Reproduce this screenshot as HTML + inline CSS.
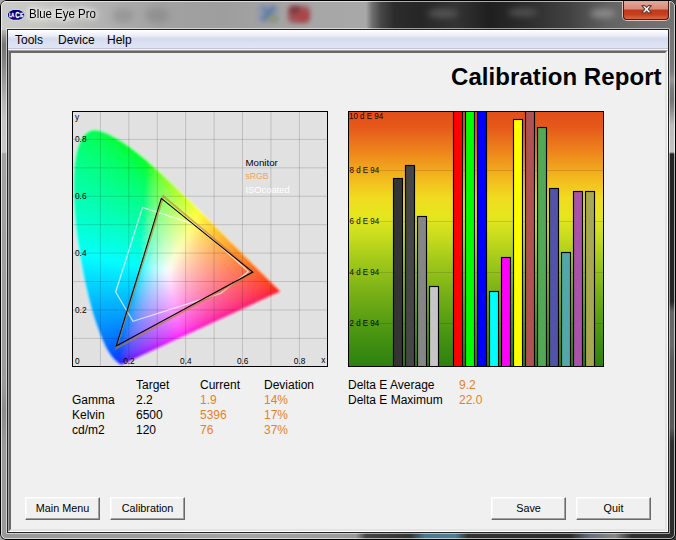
<!DOCTYPE html>
<html lang="en">
<head>
<meta charset="utf-8">
<title>Blue Eye Pro</title>
<style>
html,body{margin:0;padding:0;}
body{width:676px;height:540px;overflow:hidden;background:linear-gradient(to right,#a8a8a8 0,#a8a8a8 50%,#3a3a3a 60%,#3a3a3a 100%);font-family:"Liberation Sans",sans-serif;position:relative;}
.abs{position:absolute;}
#win{position:absolute;left:0;top:0;width:676px;height:540px;border-radius:6px 6px 6px 6px;overflow:hidden;
 background:#999;}
/* glass layers */
#g-title{left:0;top:0;width:676px;height:30px;
 background:linear-gradient(to right,#cbcbc8 0px,#c5c5c2 40px,#b2b2b2 100px,#a2a2a2 160px,#9e9e9e 220px,#a6a6a6 300px,#a8a8a8 366px,#707070 372px,#474747 381px,#2c2c2c 394px,#262626 420px,#343434 455px,#1f1f1f 490px,#2c2c2c 525px,#424242 570px,#626262 608px,#6e6e6e 640px,#727272 676px);}
#g-left{left:0;top:30px;width:8px;height:510px;
 background:linear-gradient(to bottom,#b8b8b6 0px,#8a8a8a 8px,#767676 15px,#808080 30px,#9a9a9a 50px,#b4b4b4 70px,#c4c4c4 90px,#c8c8c8 122px,#a2a2a2 124px,#9c9c9c 350px,#8c8c8c 380px,#9a9a9a 420px,#999 510px);}
#g-right{left:668px;top:30px;width:8px;height:510px;
 background:linear-gradient(to bottom,#747474 0px,#7a7a7a 40px,#959595 50px,#7c7c7c 58px,#747474 70px,#8c8c8c 80px,#bcbcbc 95px,#c4c4c4 122px,#242424 124px,#262626 272px,#666 282px,#6a6a6a 315px,#585858 332px,#5a5a5a 398px,#2e2e2e 412px,#2c2c2c 510px);}
#g-bottom{left:0;top:532px;width:676px;height:8px;
 background:linear-gradient(to right,#999 0px,#9c9c9c 150px,#a4a4a4 250px,#999 356px,#444 366px,#333 410px,#4a7a90 425px,#4f7f95 455px,#333 468px,#2a2a2a 570px,#667080 590px,#888 615px,#2e2e2e 632px,#2c2c2c 676px);}
.blob{position:absolute;border-radius:50%;filter:blur(3px);}
/* frame lines */
#ln-outer{left:0;top:0;width:674px;height:538px;border:1px solid #000;border-radius:6px;}
#ln-hi{left:1px;top:1px;width:672px;height:536px;border:1px solid rgba(255,255,255,.62);border-radius:5px;}
#ln-in-hi{left:6px;top:28px;width:662px;height:504px;border:1px solid rgba(255,255,255,.55);border-radius:1px;}
#ln-in-dk{left:7px;top:29px;width:660px;height:502px;border:1px solid #222;}
/* title */
#ttext{left:28.6px;top:5.4px;font-size:12.4px;line-height:18px;transform:scaleX(.925);transform-origin:0 0;color:#000;white-space:nowrap;text-shadow:0 0 6px #fff,0 0 8px #fff,0 0 10px rgba(255,255,255,.9);}
#close{left:622px;top:1px;width:48px;height:19.5px;border:1px solid rgba(255,225,215,.75);border-top:none;border-radius:0 0 5px 5px;
 box-sizing:border-box;}
#close i{position:absolute;left:0;top:0;right:0;bottom:0;border:1px solid #4a1a12;border-top:none;border-radius:0 0 4px 4px;
 background:linear-gradient(to bottom,#e2a99b 0%,#d88a78 45%,#c2371a 50%,#c5401f 75%,#d8693f 100%);}
/* client */
#client{left:8px;top:30px;width:660px;height:502px;background:#f0f0f0;}
#menu{left:0;top:0;width:660px;height:18px;background:linear-gradient(to bottom,#fff 0px,#fbfbfe 1.5px,#f1f3fa 4px,#e5e9f5 6.5px,#d6dcee 8.5px,#d8def0 11px,#dde2f3 14px,#e0e5f5 18px);}
#menu span{position:absolute;top:3px;font-size:12px;line-height:14px;color:#000;}
#menu-b1{left:0;top:18px;width:660px;height:1px;background:#c2c4d4;}
#menu-b2{left:0;top:19px;width:660px;height:1px;background:#f6f6fb;}
#panel{left:0;top:20px;width:656px;height:478px;border:2px solid;border-color:#696969 #e3e3e3 #e3e3e3 #696969;background:#f0f0f0;
 box-shadow:0 0 0 0 #000;}
#panel-o{left:0;top:20px;width:658px;height:480px;border:1px solid;border-color:#a0a0a0 #fff #fff #a0a0a0;}
h1{position:absolute;margin:0;left:451px;top:63px;font-size:24px;line-height:28px;font-weight:bold;color:#000;white-space:nowrap;letter-spacing:0.07px;}
.t{position:absolute;font-size:12px;line-height:15px;color:#000;white-space:nowrap;}
.o{color:#e8802a;}
.btn{position:absolute;top:497px;width:73px;height:21px;border:1px solid;border-color:#fff #696969 #696969 #fff;background:#f0f0f0;
 font-size:10.8px;line-height:21px;text-align:center;color:#000;box-shadow:inset -1px -1px 0 #a0a0a0,inset 1px 1px 0 #f8f8f8;}
svg{position:absolute;overflow:hidden;}
svg text{font-family:"Liberation Sans",sans-serif;}
</style>
</head>
<body>
<div id="win">
  <div class="abs" id="g-title"></div>
  <div class="abs" id="g-left"></div>
  <div class="abs" id="g-right"></div>
  <div class="abs" id="g-bottom"></div>
  <!-- blurred desktop items behind the glass -->
  <div class="blob" style="left:257px;top:4px;width:22px;height:19px;border-radius:6px;background:#8494ae;opacity:.6;filter:blur(2.5px)"></div>
  <div class="blob" style="left:265.5px;top:4px;width:5px;height:19px;border-radius:2px;background:#46689c;opacity:.55;filter:blur(2px);transform:rotate(42deg)"></div>
  <div class="blob" style="left:265.5px;top:4px;width:5px;height:19px;border-radius:2px;background:#5078a8;opacity:.5;filter:blur(2px);transform:rotate(-42deg)"></div>
  <div class="blob" style="left:268px;top:15px;width:10px;height:7px;background:#a09a5a;opacity:.7;filter:blur(2px)"></div>
  <div class="blob" style="left:288px;top:6px;width:22px;height:17px;border-radius:5px;background:#9e3c40;opacity:.8;filter:blur(2.6px)"></div>
  <div class="blob" style="left:290px;top:6px;width:10px;height:8px;border-radius:3px;background:#6a3034;opacity:.6;filter:blur(2px)"></div>
  <div class="blob" style="left:298px;top:12px;width:10px;height:9px;border-radius:3px;background:#b83a3c;opacity:.6;filter:blur(2px)"></div>
  <div class="blob" style="left:112px;top:8px;width:22px;height:15px;background:#8c8c8c;opacity:.6"></div>
  <div class="blob" style="left:145px;top:8px;width:24px;height:15px;background:#888;opacity:.65"></div>
  <div class="blob" style="left:428px;top:9px;width:30px;height:9px;background:#5e5e5e;opacity:.8"></div>
  <div class="blob" style="left:508px;top:8px;width:30px;height:9px;background:#575757;opacity:.8"></div>
  <div class="blob" style="left:590px;top:9px;width:26px;height:9px;background:#9a9a9a;opacity:.75"></div>

  <div class="abs" id="ln-outer"></div>
  <div class="abs" id="ln-hi"></div>
  <div class="abs" id="ln-in-hi"></div>
  <div class="abs" id="ln-in-dk"></div>

  <!-- app icon -->
  <svg class="abs" style="left:6px;top:8px" width="21" height="14" viewBox="6 8 21 14">
    <path d="M13 9.4H19.2L22.3 11L24.8 13.3V16.6L22.3 18.9L19.2 20.4H13L9.9 18.9L7.4 16.6V13.3L9.9 11Z" fill="#e6e6fa" opacity=".75"/>
    <path d="M13 10H19L22 11.5L24.2 13.5V16.4L22 18.4L19 19.8H13L10 18.4L8 16.4V13.5L10 11.5Z" fill="#00007e"/>
    <g fill="#fff" font-weight="bold" stroke="#fff" stroke-width=".3">
      <text x="8.9" y="16.8" font-size="5.6" textLength="5.4" lengthAdjust="spacingAndGlyphs">LA</text>
      <text x="15.2" y="18" font-size="8.6" textLength="4.4" lengthAdjust="spacingAndGlyphs">C</text>
      <text x="19.9" y="16.8" font-size="5.6" textLength="3.4" lengthAdjust="spacingAndGlyphs">IE</text>
    </g>
  </svg>
  <div class="abs" id="ttext">Blue Eye Pro</div>

  <div class="abs" id="close"><i></i>
    <svg style="left:16.3px;top:1.6px" width="15" height="13" viewBox="0 0 15 13">
      <path d="M2.8 2.6 L6 2.6 L7.6 4.5 L9.2 2.6 L12.4 2.6 L9.3 6.2 L12.5 9.9 L9.2 9.9 L7.6 8 L6 9.9 L2.7 9.9 L5.9 6.2 Z" fill="#fff" stroke="#5e423e" stroke-width="1.1" stroke-linejoin="round"/>
    </svg>
  </div>

  <div class="abs" id="client">
    <div class="abs" id="menu">
      <span style="left:7px">Tools</span><span style="left:50px">Device</span><span style="left:99px">Help</span>
    </div>
    <div class="abs" id="menu-b1"></div>
    <div class="abs" id="menu-b2"></div>
    <div class="abs" id="panel-o"></div>
    <div class="abs" id="panel" style="left:1px;top:21px;width:654px;height:476px;"></div>
  </div>

  <h1>Calibration Report</h1>

  <!-- CIE chromaticity chart -->
  <svg id="cie" style="left:72px;top:111px" width="256" height="256" viewBox="0 0 256 256">
    <defs>
      <filter id="b1" x="-5%" y="-5%" width="110%" height="110%"><feGaussianBlur stdDeviation="1.1"/></filter>
      <mask id="locus" maskUnits="userSpaceOnUse" x="0" y="0" width="256" height="256"><path d="M49.1 254.6C49.1 254.6 49.0 254.6 49.0 254.6C48.9 254.6 48.8 254.6 48.8 254.5C48.7 254.5 48.6 254.4 48.4 254.3C48.3 254.3 48.2 254.2 48.0 254.0C47.9 253.9 47.7 253.7 47.5 253.5C47.3 253.4 47.0 253.1 46.8 252.9C46.5 252.6 46.2 252.4 45.8 252.1C45.5 251.7 45.0 251.4 44.5 251.0C44.1 250.5 43.5 250.1 43.0 249.5C42.4 249.0 41.7 248.4 41.0 247.5C40.2 246.7 39.5 246.0 38.5 244.6C37.6 243.3 36.5 241.8 35.3 239.6C34.1 237.3 32.7 234.9 31.2 231.3C29.6 227.8 27.9 223.7 26.0 218.3C24.0 212.9 21.7 206.6 19.5 198.9C17.4 191.2 15.1 182.1 12.9 172.1C10.8 162.0 8.4 150.1 6.7 138.6C4.9 127.1 3.3 114.3 2.3 102.9C1.4 91.4 0.8 79.8 1.1 69.7C1.4 59.7 2.3 50.1 4.0 42.6C5.6 35.2 8.2 29.0 11.1 25.0C13.9 21.1 17.6 19.5 21.1 18.8C24.7 18.2 28.7 19.7 32.5 21.0C36.3 22.3 40.3 24.7 44.0 26.8C47.7 28.9 51.3 31.2 54.9 33.7C58.4 36.1 61.9 38.7 65.3 41.4C68.8 44.2 72.2 47.0 75.6 50.0C79.0 52.9 82.4 56.0 85.8 59.1C89.2 62.2 92.6 65.4 95.9 68.6C99.3 71.8 102.7 75.1 106.1 78.4C109.5 81.6 112.9 85.0 116.3 88.3C119.6 91.6 123.0 94.9 126.3 98.2C129.6 101.5 132.9 104.8 136.2 108.0C139.4 111.3 142.6 114.5 145.8 117.6C148.9 120.7 152.0 123.8 155.0 126.7C157.9 129.7 160.9 132.6 163.6 135.3C166.4 138.1 169.0 140.8 171.5 143.2C173.9 145.7 176.2 147.9 178.3 150.0C180.5 152.2 182.5 154.2 184.4 156.0C186.2 157.9 187.9 159.5 189.4 161.0C190.9 162.5 192.2 163.8 193.4 165.1C194.7 166.3 195.7 167.3 196.7 168.3C197.7 169.3 198.5 170.1 199.3 170.9C200.1 171.6 200.7 172.3 201.4 172.9C202.0 173.6 202.6 174.1 203.1 174.7C203.6 175.2 204.1 175.7 204.5 176.1C204.9 176.5 205.3 176.9 205.7 177.2C206.0 177.5 206.3 177.8 206.5 178.1C206.8 178.3 207.0 178.5 207.2 178.7C207.3 178.9 207.3 178.9 207.6 179.2C207.9 179.5 208.8 180.3 209.0 180.5Z" fill="#fff" filter="url(#b1)"/></mask>
      <filter id="sm" x="-5%" y="-5%" width="110%" height="110%"><feGaussianBlur stdDeviation="2"/></filter>
    </defs>
    <rect x="0" y="0" width="257" height="257" fill="#e1e1e1"/>
    <g mask="url(#locus)" opacity=".98">
      <g id="cells" filter="url(#sm)">
<g transform="translate(0 8)"><rect x="12" width="4" height="4" fill="#00ff49"/><rect x="16" width="4" height="4" fill="#00ff42"/><rect x="20" width="4" height="4" fill="#00ff3b"/><rect x="24" width="4" height="4" fill="#00ff32"/><rect x="28" width="4" height="4" fill="#00ff27"/><rect x="32" width="4" height="4" fill="#00ff13"/></g>
<g transform="translate(0 12)"><rect x="4" width="4" height="4" fill="#00ff59"/><rect x="8" width="4" height="4" fill="#00ff54"/><rect x="12" width="4" height="4" fill="#00ff4f"/><rect x="16" width="4" height="4" fill="#00ff49"/><rect x="20" width="4" height="4" fill="#00ff43"/><rect x="24" width="4" height="4" fill="#00ff3c"/><rect x="28" width="4" height="4" fill="#00ff33"/><rect x="32" width="4" height="4" fill="#00ff27"/><rect x="36" width="4" height="4" fill="#00ff14"/><rect x="40" width="4" height="4" fill="#00ff00"/></g>
<g transform="translate(0 16)"><rect x="0" width="4" height="4" fill="#00ff63"/><rect x="4" width="4" height="4" fill="#00ff5f"/><rect x="8" width="4" height="4" fill="#00ff5a"/><rect x="12" width="4" height="4" fill="#00ff55"/><rect x="16" width="4" height="4" fill="#00ff50"/><rect x="20" width="4" height="4" fill="#00ff4a"/><rect x="24" width="4" height="4" fill="#00ff44"/><rect x="28" width="4" height="4" fill="#00ff3c"/><rect x="32" width="4" height="4" fill="#00ff33"/><rect x="36" width="4" height="4" fill="#00ff28"/><rect x="40" width="4" height="4" fill="#00ff15"/><rect x="44" width="4" height="4" fill="#00ff00"/><rect x="48" width="4" height="4" fill="#00ff00"/></g>
<g transform="translate(0 20)"><rect x="0" width="4" height="4" fill="#00ff68"/><rect x="4" width="4" height="4" fill="#00ff64"/><rect x="8" width="4" height="4" fill="#00ff60"/><rect x="12" width="4" height="4" fill="#00ff5b"/><rect x="16" width="4" height="4" fill="#00ff56"/><rect x="20" width="4" height="4" fill="#00ff51"/><rect x="24" width="4" height="4" fill="#00ff4b"/><rect x="28" width="4" height="4" fill="#00ff45"/><rect x="32" width="4" height="4" fill="#00ff3d"/><rect x="36" width="4" height="4" fill="#00ff34"/><rect x="40" width="4" height="4" fill="#00ff29"/><rect x="44" width="4" height="4" fill="#00ff16"/><rect x="48" width="4" height="4" fill="#00ff00"/><rect x="52" width="4" height="4" fill="#00ff00"/><rect x="56" width="4" height="4" fill="#00ff00"/></g>
<g transform="translate(0 24)"><rect x="0" width="4" height="4" fill="#00ff6d"/><rect x="4" width="4" height="4" fill="#00ff69"/><rect x="8" width="4" height="4" fill="#00ff65"/><rect x="12" width="4" height="4" fill="#00ff61"/><rect x="16" width="4" height="4" fill="#00ff5c"/><rect x="20" width="4" height="4" fill="#00ff57"/><rect x="24" width="4" height="4" fill="#00ff52"/><rect x="28" width="4" height="4" fill="#00ff4c"/><rect x="32" width="4" height="4" fill="#00ff46"/><rect x="36" width="4" height="4" fill="#00ff3e"/><rect x="40" width="4" height="4" fill="#00ff35"/><rect x="44" width="4" height="4" fill="#00ff29"/><rect x="48" width="4" height="4" fill="#00ff17"/><rect x="52" width="4" height="4" fill="#00ff00"/><rect x="56" width="4" height="4" fill="#00ff00"/><rect x="60" width="4" height="4" fill="#00ff00"/></g>
<g transform="translate(0 28)"><rect x="0" width="4" height="4" fill="#00ff72"/><rect x="4" width="4" height="4" fill="#00ff6e"/><rect x="8" width="4" height="4" fill="#00ff6a"/><rect x="12" width="4" height="4" fill="#00ff66"/><rect x="16" width="4" height="4" fill="#00ff62"/><rect x="20" width="4" height="4" fill="#00ff5d"/><rect x="24" width="4" height="4" fill="#00ff58"/><rect x="28" width="4" height="4" fill="#00ff53"/><rect x="32" width="4" height="4" fill="#00ff4d"/><rect x="36" width="4" height="4" fill="#00ff47"/><rect x="40" width="4" height="4" fill="#00ff3f"/><rect x="44" width="4" height="4" fill="#00ff36"/><rect x="48" width="4" height="4" fill="#00ff2a"/><rect x="52" width="4" height="4" fill="#00ff18"/><rect x="56" width="4" height="4" fill="#00ff00"/><rect x="60" width="4" height="4" fill="#00ff00"/><rect x="64" width="4" height="4" fill="#00ff00"/><rect x="68" width="4" height="4" fill="#00ff00"/></g>
<g transform="translate(0 32)"><rect x="0" width="4" height="4" fill="#00ff76"/><rect x="4" width="4" height="4" fill="#00ff73"/><rect x="8" width="4" height="4" fill="#00ff6f"/><rect x="12" width="4" height="4" fill="#00ff6c"/><rect x="16" width="4" height="4" fill="#00ff67"/><rect x="20" width="4" height="4" fill="#00ff63"/><rect x="24" width="4" height="4" fill="#00ff5f"/><rect x="28" width="4" height="4" fill="#00ff5a"/><rect x="32" width="4" height="4" fill="#00ff54"/><rect x="36" width="4" height="4" fill="#00ff4e"/><rect x="40" width="4" height="4" fill="#00ff48"/><rect x="44" width="4" height="4" fill="#00ff40"/><rect x="48" width="4" height="4" fill="#00ff37"/><rect x="52" width="4" height="4" fill="#00ff2b"/><rect x="56" width="4" height="4" fill="#00ff18"/><rect x="60" width="4" height="4" fill="#00ff00"/><rect x="64" width="4" height="4" fill="#00ff00"/><rect x="68" width="4" height="4" fill="#00ff00"/><rect x="72" width="4" height="4" fill="#00ff00"/></g>
<g transform="translate(0 36)"><rect x="0" width="4" height="4" fill="#00ff7b"/><rect x="4" width="4" height="4" fill="#00ff78"/><rect x="8" width="4" height="4" fill="#00ff74"/><rect x="12" width="4" height="4" fill="#00ff71"/><rect x="16" width="4" height="4" fill="#00ff6d"/><rect x="20" width="4" height="4" fill="#00ff69"/><rect x="24" width="4" height="4" fill="#00ff64"/><rect x="28" width="4" height="4" fill="#00ff60"/><rect x="32" width="4" height="4" fill="#00ff5b"/><rect x="36" width="4" height="4" fill="#00ff55"/><rect x="40" width="4" height="4" fill="#00ff4f"/><rect x="44" width="4" height="4" fill="#00ff49"/><rect x="48" width="4" height="4" fill="#00ff41"/><rect x="52" width="4" height="4" fill="#00ff38"/><rect x="56" width="4" height="4" fill="#00ff2c"/><rect x="60" width="4" height="4" fill="#00ff19"/><rect x="64" width="4" height="4" fill="#00ff00"/><rect x="68" width="4" height="4" fill="#00ff00"/><rect x="72" width="4" height="4" fill="#00ff00"/><rect x="76" width="4" height="4" fill="#00ff00"/></g>
<g transform="translate(0 40)"><rect x="0" width="4" height="4" fill="#00ff80"/><rect x="4" width="4" height="4" fill="#00ff7c"/><rect x="8" width="4" height="4" fill="#00ff79"/><rect x="12" width="4" height="4" fill="#00ff76"/><rect x="16" width="4" height="4" fill="#00ff72"/><rect x="20" width="4" height="4" fill="#00ff6e"/><rect x="24" width="4" height="4" fill="#00ff6a"/><rect x="28" width="4" height="4" fill="#00ff66"/><rect x="32" width="4" height="4" fill="#00ff61"/><rect x="36" width="4" height="4" fill="#00ff5c"/><rect x="40" width="4" height="4" fill="#00ff56"/><rect x="44" width="4" height="4" fill="#00ff50"/><rect x="48" width="4" height="4" fill="#00ff4a"/><rect x="52" width="4" height="4" fill="#00ff42"/><rect x="56" width="4" height="4" fill="#00ff38"/><rect x="60" width="4" height="4" fill="#00ff2d"/><rect x="64" width="4" height="4" fill="#00ff1a"/><rect x="68" width="4" height="4" fill="#00ff00"/><rect x="72" width="4" height="4" fill="#00ff00"/><rect x="76" width="4" height="4" fill="#00ff00"/><rect x="80" width="4" height="4" fill="#32ff00"/></g>
<g transform="translate(0 44)"><rect x="0" width="4" height="4" fill="#00ff84"/><rect x="4" width="4" height="4" fill="#00ff81"/><rect x="8" width="4" height="4" fill="#00ff7e"/><rect x="12" width="4" height="4" fill="#00ff7b"/><rect x="16" width="4" height="4" fill="#00ff77"/><rect x="20" width="4" height="4" fill="#00ff73"/><rect x="24" width="4" height="4" fill="#00ff70"/><rect x="28" width="4" height="4" fill="#00ff6b"/><rect x="32" width="4" height="4" fill="#00ff67"/><rect x="36" width="4" height="4" fill="#00ff62"/><rect x="40" width="4" height="4" fill="#00ff5d"/><rect x="44" width="4" height="4" fill="#00ff58"/><rect x="48" width="4" height="4" fill="#00ff52"/><rect x="52" width="4" height="4" fill="#00ff4b"/><rect x="56" width="4" height="4" fill="#00ff43"/><rect x="60" width="4" height="4" fill="#00ff39"/><rect x="64" width="4" height="4" fill="#00ff2d"/><rect x="68" width="4" height="4" fill="#00ff1b"/><rect x="72" width="4" height="4" fill="#00ff00"/><rect x="76" width="4" height="4" fill="#00ff00"/><rect x="80" width="4" height="4" fill="#37ff00"/><rect x="84" width="4" height="4" fill="#50ff00"/><rect x="88" width="4" height="4" fill="#62ff00"/></g>
<g transform="translate(0 48)"><rect x="0" width="4" height="4" fill="#00ff89"/><rect x="4" width="4" height="4" fill="#00ff86"/><rect x="8" width="4" height="4" fill="#00ff83"/><rect x="12" width="4" height="4" fill="#00ff80"/><rect x="16" width="4" height="4" fill="#00ff7c"/><rect x="20" width="4" height="4" fill="#00ff79"/><rect x="24" width="4" height="4" fill="#00ff75"/><rect x="28" width="4" height="4" fill="#00ff71"/><rect x="32" width="4" height="4" fill="#00ff6d"/><rect x="36" width="4" height="4" fill="#00ff68"/><rect x="40" width="4" height="4" fill="#00ff64"/><rect x="44" width="4" height="4" fill="#00ff5f"/><rect x="48" width="4" height="4" fill="#00ff59"/><rect x="52" width="4" height="4" fill="#00ff53"/><rect x="56" width="4" height="4" fill="#00ff4c"/><rect x="60" width="4" height="4" fill="#00ff44"/><rect x="64" width="4" height="4" fill="#00ff3a"/><rect x="68" width="4" height="4" fill="#00ff2e"/><rect x="72" width="4" height="4" fill="#00ff1c"/><rect x="76" width="4" height="4" fill="#00ff00"/><rect x="80" width="4" height="4" fill="#3cff00"/><rect x="84" width="4" height="4" fill="#54ff00"/><rect x="88" width="4" height="4" fill="#65ff00"/><rect x="92" width="4" height="4" fill="#74ff00"/></g>
<g transform="translate(0 52)"><rect x="0" width="4" height="4" fill="#00ff8d"/><rect x="4" width="4" height="4" fill="#00ff8a"/><rect x="8" width="4" height="4" fill="#00ff88"/><rect x="12" width="4" height="4" fill="#00ff84"/><rect x="16" width="4" height="4" fill="#00ff81"/><rect x="20" width="4" height="4" fill="#00ff7e"/><rect x="24" width="4" height="4" fill="#00ff7a"/><rect x="28" width="4" height="4" fill="#00ff77"/><rect x="32" width="4" height="4" fill="#00ff73"/><rect x="36" width="4" height="4" fill="#00ff6e"/><rect x="40" width="4" height="4" fill="#00ff6a"/><rect x="44" width="4" height="4" fill="#00ff65"/><rect x="48" width="4" height="4" fill="#00ff60"/><rect x="52" width="4" height="4" fill="#00ff5a"/><rect x="56" width="4" height="4" fill="#00ff54"/><rect x="60" width="4" height="4" fill="#00ff4d"/><rect x="64" width="4" height="4" fill="#00ff45"/><rect x="68" width="4" height="4" fill="#00ff3b"/><rect x="72" width="4" height="4" fill="#00ff2f"/><rect x="76" width="4" height="4" fill="#15ff1d"/><rect x="80" width="4" height="4" fill="#41ff00"/><rect x="84" width="4" height="4" fill="#57ff00"/><rect x="88" width="4" height="4" fill="#69ff00"/><rect x="92" width="4" height="4" fill="#77ff00"/><rect x="96" width="4" height="4" fill="#85ff00"/></g>
<g transform="translate(0 56)"><rect x="0" width="4" height="4" fill="#00ff92"/><rect x="4" width="4" height="4" fill="#00ff8f"/><rect x="8" width="4" height="4" fill="#00ff8c"/><rect x="12" width="4" height="4" fill="#00ff89"/><rect x="16" width="4" height="4" fill="#00ff86"/><rect x="20" width="4" height="4" fill="#00ff83"/><rect x="24" width="4" height="4" fill="#00ff80"/><rect x="28" width="4" height="4" fill="#00ff7c"/><rect x="32" width="4" height="4" fill="#00ff78"/><rect x="36" width="4" height="4" fill="#00ff74"/><rect x="40" width="4" height="4" fill="#00ff70"/><rect x="44" width="4" height="4" fill="#00ff6b"/><rect x="48" width="4" height="4" fill="#00ff67"/><rect x="52" width="4" height="4" fill="#00ff61"/><rect x="56" width="4" height="4" fill="#00ff5c"/><rect x="60" width="4" height="4" fill="#00ff55"/><rect x="64" width="4" height="4" fill="#00ff4e"/><rect x="68" width="4" height="4" fill="#00ff46"/><rect x="72" width="4" height="4" fill="#00ff3c"/><rect x="76" width="4" height="4" fill="#1dff30"/><rect x="80" width="4" height="4" fill="#46ff1e"/><rect x="84" width="4" height="4" fill="#5bff00"/><rect x="88" width="4" height="4" fill="#6cff00"/><rect x="92" width="4" height="4" fill="#7bff00"/><rect x="96" width="4" height="4" fill="#88ff00"/><rect x="100" width="4" height="4" fill="#94ff00"/></g>
<g transform="translate(0 60)"><rect x="0" width="4" height="4" fill="#00ff96"/><rect x="4" width="4" height="4" fill="#00ff94"/><rect x="8" width="4" height="4" fill="#00ff91"/><rect x="12" width="4" height="4" fill="#00ff8e"/><rect x="16" width="4" height="4" fill="#00ff8b"/><rect x="20" width="4" height="4" fill="#00ff88"/><rect x="24" width="4" height="4" fill="#00ff85"/><rect x="28" width="4" height="4" fill="#00ff81"/><rect x="32" width="4" height="4" fill="#00ff7e"/><rect x="36" width="4" height="4" fill="#00ff7a"/><rect x="40" width="4" height="4" fill="#00ff76"/><rect x="44" width="4" height="4" fill="#00ff72"/><rect x="48" width="4" height="4" fill="#00ff6d"/><rect x="52" width="4" height="4" fill="#00ff68"/><rect x="56" width="4" height="4" fill="#00ff63"/><rect x="60" width="4" height="4" fill="#00ff5d"/><rect x="64" width="4" height="4" fill="#00ff57"/><rect x="68" width="4" height="4" fill="#00ff4f"/><rect x="72" width="4" height="4" fill="#00ff47"/><rect x="76" width="4" height="4" fill="#24ff3e"/><rect x="80" width="4" height="4" fill="#4aff31"/><rect x="84" width="4" height="4" fill="#5fff1f"/><rect x="88" width="4" height="4" fill="#70ff00"/><rect x="92" width="4" height="4" fill="#7eff00"/><rect x="96" width="4" height="4" fill="#8bff00"/><rect x="100" width="4" height="4" fill="#97ff00"/><rect x="104" width="4" height="4" fill="#a2ff00"/></g>
<g transform="translate(0 64)"><rect x="0" width="4" height="4" fill="#00ff9b"/><rect x="4" width="4" height="4" fill="#00ff98"/><rect x="8" width="4" height="4" fill="#00ff96"/><rect x="12" width="4" height="4" fill="#00ff93"/><rect x="16" width="4" height="4" fill="#00ff90"/><rect x="20" width="4" height="4" fill="#00ff8d"/><rect x="24" width="4" height="4" fill="#00ff8a"/><rect x="28" width="4" height="4" fill="#00ff87"/><rect x="32" width="4" height="4" fill="#00ff83"/><rect x="36" width="4" height="4" fill="#00ff7f"/><rect x="40" width="4" height="4" fill="#00ff7c"/><rect x="44" width="4" height="4" fill="#00ff78"/><rect x="48" width="4" height="4" fill="#00ff73"/><rect x="52" width="4" height="4" fill="#00ff6f"/><rect x="56" width="4" height="4" fill="#00ff6a"/><rect x="60" width="4" height="4" fill="#00ff64"/><rect x="64" width="4" height="4" fill="#00ff5f"/><rect x="68" width="4" height="4" fill="#00ff58"/><rect x="72" width="4" height="4" fill="#00ff51"/><rect x="76" width="4" height="4" fill="#2aff49"/><rect x="80" width="4" height="4" fill="#4eff3f"/><rect x="84" width="4" height="4" fill="#63ff32"/><rect x="88" width="4" height="4" fill="#73ff20"/><rect x="92" width="4" height="4" fill="#81ff00"/><rect x="96" width="4" height="4" fill="#8eff00"/><rect x="100" width="4" height="4" fill="#9aff00"/><rect x="104" width="4" height="4" fill="#a5ff00"/><rect x="108" width="4" height="4" fill="#b0ff00"/></g>
<g transform="translate(0 68)"><rect x="0" width="4" height="4" fill="#00ff9f"/><rect x="4" width="4" height="4" fill="#00ff9d"/><rect x="8" width="4" height="4" fill="#00ff9a"/><rect x="12" width="4" height="4" fill="#00ff98"/><rect x="16" width="4" height="4" fill="#00ff95"/><rect x="20" width="4" height="4" fill="#00ff92"/><rect x="24" width="4" height="4" fill="#00ff8f"/><rect x="28" width="4" height="4" fill="#00ff8c"/><rect x="32" width="4" height="4" fill="#00ff89"/><rect x="36" width="4" height="4" fill="#00ff85"/><rect x="40" width="4" height="4" fill="#00ff81"/><rect x="44" width="4" height="4" fill="#00ff7d"/><rect x="48" width="4" height="4" fill="#00ff79"/><rect x="52" width="4" height="4" fill="#00ff75"/><rect x="56" width="4" height="4" fill="#00ff70"/><rect x="60" width="4" height="4" fill="#00ff6b"/><rect x="64" width="4" height="4" fill="#00ff66"/><rect x="68" width="4" height="4" fill="#00ff60"/><rect x="72" width="4" height="4" fill="#00ff5a"/><rect x="76" width="4" height="4" fill="#2fff52"/><rect x="80" width="4" height="4" fill="#53ff4a"/><rect x="84" width="4" height="4" fill="#66ff40"/><rect x="88" width="4" height="4" fill="#77ff33"/><rect x="92" width="4" height="4" fill="#85ff21"/><rect x="96" width="4" height="4" fill="#92ff00"/><rect x="100" width="4" height="4" fill="#9dff00"/><rect x="104" width="4" height="4" fill="#a9ff00"/><rect x="108" width="4" height="4" fill="#b3ff00"/><rect x="112" width="4" height="4" fill="#bdff00"/></g>
<g transform="translate(0 72)"><rect x="0" width="4" height="4" fill="#00ffa4"/><rect x="4" width="4" height="4" fill="#00ffa2"/><rect x="8" width="4" height="4" fill="#00ff9f"/><rect x="12" width="4" height="4" fill="#00ff9c"/><rect x="16" width="4" height="4" fill="#00ff9a"/><rect x="20" width="4" height="4" fill="#00ff97"/><rect x="24" width="4" height="4" fill="#00ff94"/><rect x="28" width="4" height="4" fill="#00ff91"/><rect x="32" width="4" height="4" fill="#00ff8e"/><rect x="36" width="4" height="4" fill="#00ff8b"/><rect x="40" width="4" height="4" fill="#00ff87"/><rect x="44" width="4" height="4" fill="#00ff83"/><rect x="48" width="4" height="4" fill="#00ff7f"/><rect x="52" width="4" height="4" fill="#00ff7b"/><rect x="56" width="4" height="4" fill="#00ff77"/><rect x="60" width="4" height="4" fill="#00ff72"/><rect x="64" width="4" height="4" fill="#00ff6d"/><rect x="68" width="4" height="4" fill="#00ff68"/><rect x="72" width="4" height="4" fill="#00ff62"/><rect x="76" width="4" height="4" fill="#33ff5b"/><rect x="80" width="4" height="4" fill="#57ff54"/><rect x="84" width="4" height="4" fill="#6aff4b"/><rect x="88" width="4" height="4" fill="#7aff41"/><rect x="92" width="4" height="4" fill="#88ff35"/><rect x="96" width="4" height="4" fill="#95ff22"/><rect x="100" width="4" height="4" fill="#a1ff00"/><rect x="104" width="4" height="4" fill="#acff00"/><rect x="108" width="4" height="4" fill="#b7ff00"/><rect x="112" width="4" height="4" fill="#c1ff00"/><rect x="116" width="4" height="4" fill="#cbff00"/></g>
<g transform="translate(0 76)"><rect x="0" width="4" height="4" fill="#00ffa9"/><rect x="4" width="4" height="4" fill="#00ffa6"/><rect x="8" width="4" height="4" fill="#00ffa4"/><rect x="12" width="4" height="4" fill="#00ffa1"/><rect x="16" width="4" height="4" fill="#00ff9f"/><rect x="20" width="4" height="4" fill="#00ff9c"/><rect x="24" width="4" height="4" fill="#00ff99"/><rect x="28" width="4" height="4" fill="#00ff96"/><rect x="32" width="4" height="4" fill="#00ff93"/><rect x="36" width="4" height="4" fill="#00ff90"/><rect x="40" width="4" height="4" fill="#00ff8d"/><rect x="44" width="4" height="4" fill="#00ff89"/><rect x="48" width="4" height="4" fill="#00ff85"/><rect x="52" width="4" height="4" fill="#00ff81"/><rect x="56" width="4" height="4" fill="#00ff7d"/><rect x="60" width="4" height="4" fill="#00ff79"/><rect x="64" width="4" height="4" fill="#00ff74"/><rect x="68" width="4" height="4" fill="#00ff6f"/><rect x="72" width="4" height="4" fill="#00ff69"/><rect x="76" width="4" height="4" fill="#38ff63"/><rect x="80" width="4" height="4" fill="#5aff5d"/><rect x="84" width="4" height="4" fill="#6eff55"/><rect x="88" width="4" height="4" fill="#7eff4d"/><rect x="92" width="4" height="4" fill="#8cff43"/><rect x="96" width="4" height="4" fill="#99ff36"/><rect x="100" width="4" height="4" fill="#a4ff23"/><rect x="104" width="4" height="4" fill="#b0ff00"/><rect x="108" width="4" height="4" fill="#baff00"/><rect x="112" width="4" height="4" fill="#c5ff00"/><rect x="116" width="4" height="4" fill="#ceff00"/><rect x="120" width="4" height="4" fill="#d8ff00"/></g>
<g transform="translate(0 80)"><rect x="0" width="4" height="4" fill="#00ffad"/><rect x="4" width="4" height="4" fill="#00ffab"/><rect x="8" width="4" height="4" fill="#00ffa9"/><rect x="12" width="4" height="4" fill="#00ffa6"/><rect x="16" width="4" height="4" fill="#00ffa4"/><rect x="20" width="4" height="4" fill="#00ffa1"/><rect x="24" width="4" height="4" fill="#00ff9e"/><rect x="28" width="4" height="4" fill="#00ff9c"/><rect x="32" width="4" height="4" fill="#00ff99"/><rect x="36" width="4" height="4" fill="#00ff95"/><rect x="40" width="4" height="4" fill="#00ff92"/><rect x="44" width="4" height="4" fill="#00ff8f"/><rect x="48" width="4" height="4" fill="#00ff8b"/><rect x="52" width="4" height="4" fill="#00ff88"/><rect x="56" width="4" height="4" fill="#00ff84"/><rect x="60" width="4" height="4" fill="#00ff7f"/><rect x="64" width="4" height="4" fill="#00ff7b"/><rect x="68" width="4" height="4" fill="#00ff76"/><rect x="72" width="4" height="4" fill="#00ff71"/><rect x="76" width="4" height="4" fill="#3cff6b"/><rect x="80" width="4" height="4" fill="#5eff65"/><rect x="84" width="4" height="4" fill="#71ff5e"/><rect x="88" width="4" height="4" fill="#81ff57"/><rect x="92" width="4" height="4" fill="#8fff4e"/><rect x="96" width="4" height="4" fill="#9cff44"/><rect x="100" width="4" height="4" fill="#a8ff37"/><rect x="104" width="4" height="4" fill="#b3ff24"/><rect x="108" width="4" height="4" fill="#beff00"/><rect x="112" width="4" height="4" fill="#c9ff00"/><rect x="116" width="4" height="4" fill="#d2ff00"/><rect x="120" width="4" height="4" fill="#dcff00"/><rect x="124" width="4" height="4" fill="#e6ff00"/></g>
<g transform="translate(0 84)"><rect x="0" width="4" height="4" fill="#00ffb2"/><rect x="4" width="4" height="4" fill="#00ffb0"/><rect x="8" width="4" height="4" fill="#00ffad"/><rect x="12" width="4" height="4" fill="#00ffab"/><rect x="16" width="4" height="4" fill="#00ffa9"/><rect x="20" width="4" height="4" fill="#00ffa6"/><rect x="24" width="4" height="4" fill="#00ffa4"/><rect x="28" width="4" height="4" fill="#00ffa1"/><rect x="32" width="4" height="4" fill="#00ff9e"/><rect x="36" width="4" height="4" fill="#00ff9b"/><rect x="40" width="4" height="4" fill="#00ff98"/><rect x="44" width="4" height="4" fill="#00ff95"/><rect x="48" width="4" height="4" fill="#00ff91"/><rect x="52" width="4" height="4" fill="#00ff8e"/><rect x="56" width="4" height="4" fill="#00ff8a"/><rect x="60" width="4" height="4" fill="#00ff86"/><rect x="64" width="4" height="4" fill="#00ff82"/><rect x="68" width="4" height="4" fill="#00ff7d"/><rect x="72" width="4" height="4" fill="#00ff78"/><rect x="76" width="4" height="4" fill="#40ff73"/><rect x="80" width="4" height="4" fill="#61ff6d"/><rect x="84" width="4" height="4" fill="#75ff67"/><rect x="88" width="4" height="4" fill="#85ff60"/><rect x="92" width="4" height="4" fill="#93ff59"/><rect x="96" width="4" height="4" fill="#a0ff50"/><rect x="100" width="4" height="4" fill="#acff45"/><rect x="104" width="4" height="4" fill="#b7ff38"/><rect x="108" width="4" height="4" fill="#c2ff25"/><rect x="112" width="4" height="4" fill="#cdff00"/><rect x="116" width="4" height="4" fill="#d7ff00"/><rect x="120" width="4" height="4" fill="#e0ff00"/><rect x="124" width="4" height="4" fill="#eaff00"/><rect x="128" width="4" height="4" fill="#f3ff00"/></g>
<g transform="translate(0 88)"><rect x="0" width="4" height="4" fill="#00ffb7"/><rect x="4" width="4" height="4" fill="#00ffb4"/><rect x="8" width="4" height="4" fill="#00ffb2"/><rect x="12" width="4" height="4" fill="#00ffb0"/><rect x="16" width="4" height="4" fill="#00ffae"/><rect x="20" width="4" height="4" fill="#00ffab"/><rect x="24" width="4" height="4" fill="#00ffa9"/><rect x="28" width="4" height="4" fill="#00ffa6"/><rect x="32" width="4" height="4" fill="#00ffa3"/><rect x="36" width="4" height="4" fill="#00ffa0"/><rect x="40" width="4" height="4" fill="#00ff9d"/><rect x="44" width="4" height="4" fill="#00ff9a"/><rect x="48" width="4" height="4" fill="#00ff97"/><rect x="52" width="4" height="4" fill="#00ff94"/><rect x="56" width="4" height="4" fill="#00ff90"/><rect x="60" width="4" height="4" fill="#00ff8c"/><rect x="64" width="4" height="4" fill="#00ff88"/><rect x="68" width="4" height="4" fill="#00ff84"/><rect x="72" width="4" height="4" fill="#00ff7f"/><rect x="76" width="4" height="4" fill="#44ff7a"/><rect x="80" width="4" height="4" fill="#64ff75"/><rect x="84" width="4" height="4" fill="#79ff6f"/><rect x="88" width="4" height="4" fill="#89ff69"/><rect x="92" width="4" height="4" fill="#97ff62"/><rect x="96" width="4" height="4" fill="#a4ff5a"/><rect x="100" width="4" height="4" fill="#b0ff52"/><rect x="104" width="4" height="4" fill="#bbff47"/><rect x="108" width="4" height="4" fill="#c6ff3a"/><rect x="112" width="4" height="4" fill="#d1ff26"/><rect x="116" width="4" height="4" fill="#dbff00"/><rect x="120" width="4" height="4" fill="#e5ff00"/><rect x="124" width="4" height="4" fill="#eeff00"/><rect x="128" width="4" height="4" fill="#f8ff00"/><rect x="132" width="4" height="4" fill="#fffd00"/></g>
<g transform="translate(0 92)"><rect x="0" width="4" height="4" fill="#00ffbb"/><rect x="4" width="4" height="4" fill="#00ffb9"/><rect x="8" width="4" height="4" fill="#00ffb7"/><rect x="12" width="4" height="4" fill="#00ffb5"/><rect x="16" width="4" height="4" fill="#00ffb3"/><rect x="20" width="4" height="4" fill="#00ffb0"/><rect x="24" width="4" height="4" fill="#00ffae"/><rect x="28" width="4" height="4" fill="#00ffab"/><rect x="32" width="4" height="4" fill="#00ffa9"/><rect x="36" width="4" height="4" fill="#00ffa6"/><rect x="40" width="4" height="4" fill="#00ffa3"/><rect x="44" width="4" height="4" fill="#00ffa0"/><rect x="48" width="4" height="4" fill="#00ff9d"/><rect x="52" width="4" height="4" fill="#00ff9a"/><rect x="56" width="4" height="4" fill="#00ff96"/><rect x="60" width="4" height="4" fill="#00ff93"/><rect x="64" width="4" height="4" fill="#00ff8f"/><rect x="68" width="4" height="4" fill="#00ff8b"/><rect x="72" width="4" height="4" fill="#00ff86"/><rect x="76" width="4" height="4" fill="#48ff82"/><rect x="80" width="4" height="4" fill="#67ff7d"/><rect x="84" width="4" height="4" fill="#7dff77"/><rect x="88" width="4" height="4" fill="#8dff72"/><rect x="92" width="4" height="4" fill="#9bff6b"/><rect x="96" width="4" height="4" fill="#a8ff64"/><rect x="100" width="4" height="4" fill="#b4ff5c"/><rect x="104" width="4" height="4" fill="#bfff53"/><rect x="108" width="4" height="4" fill="#caff49"/><rect x="112" width="4" height="4" fill="#d5ff3b"/><rect x="116" width="4" height="4" fill="#dfff28"/><rect x="120" width="4" height="4" fill="#e9ff00"/><rect x="124" width="4" height="4" fill="#f3ff00"/><rect x="128" width="4" height="4" fill="#fdff00"/><rect x="132" width="4" height="4" fill="#fff800"/><rect x="136" width="4" height="4" fill="#ffef00"/></g>
<g transform="translate(0 96)"><rect x="0" width="4" height="4" fill="#00ffc0"/><rect x="4" width="4" height="4" fill="#00ffbe"/><rect x="8" width="4" height="4" fill="#00ffbc"/><rect x="12" width="4" height="4" fill="#00ffba"/><rect x="16" width="4" height="4" fill="#00ffb8"/><rect x="20" width="4" height="4" fill="#00ffb6"/><rect x="24" width="4" height="4" fill="#00ffb3"/><rect x="28" width="4" height="4" fill="#00ffb1"/><rect x="32" width="4" height="4" fill="#00ffae"/><rect x="36" width="4" height="4" fill="#00ffac"/><rect x="40" width="4" height="4" fill="#00ffa9"/><rect x="44" width="4" height="4" fill="#00ffa6"/><rect x="48" width="4" height="4" fill="#00ffa3"/><rect x="52" width="4" height="4" fill="#00ffa0"/><rect x="56" width="4" height="4" fill="#00ff9c"/><rect x="60" width="4" height="4" fill="#00ff99"/><rect x="64" width="4" height="4" fill="#00ff95"/><rect x="68" width="4" height="4" fill="#00ff91"/><rect x="72" width="4" height="4" fill="#00ff8d"/><rect x="76" width="4" height="4" fill="#4cff89"/><rect x="80" width="4" height="4" fill="#6aff84"/><rect x="84" width="4" height="4" fill="#81ff7f"/><rect x="88" width="4" height="4" fill="#91ff7a"/><rect x="92" width="4" height="4" fill="#9fff74"/><rect x="96" width="4" height="4" fill="#acff6d"/><rect x="100" width="4" height="4" fill="#b8ff66"/><rect x="104" width="4" height="4" fill="#c3ff5e"/><rect x="108" width="4" height="4" fill="#cfff55"/><rect x="112" width="4" height="4" fill="#d9ff4a"/><rect x="116" width="4" height="4" fill="#e4ff3d"/><rect x="120" width="4" height="4" fill="#eeff29"/><rect x="124" width="4" height="4" fill="#f8ff00"/><rect x="128" width="4" height="4" fill="#fffc00"/><rect x="132" width="4" height="4" fill="#fff300"/><rect x="136" width="4" height="4" fill="#ffeb00"/><rect x="140" width="4" height="4" fill="#ffe300"/></g>
<g transform="translate(0 100)"><rect x="0" width="4" height="4" fill="#00ffc5"/><rect x="4" width="4" height="4" fill="#00ffc3"/><rect x="8" width="4" height="4" fill="#00ffc1"/><rect x="12" width="4" height="4" fill="#00ffbf"/><rect x="16" width="4" height="4" fill="#00ffbd"/><rect x="20" width="4" height="4" fill="#00ffbb"/><rect x="24" width="4" height="4" fill="#00ffb9"/><rect x="28" width="4" height="4" fill="#00ffb6"/><rect x="32" width="4" height="4" fill="#00ffb4"/><rect x="36" width="4" height="4" fill="#00ffb1"/><rect x="40" width="4" height="4" fill="#00ffaf"/><rect x="44" width="4" height="4" fill="#00ffac"/><rect x="48" width="4" height="4" fill="#00ffa9"/><rect x="52" width="4" height="4" fill="#00ffa6"/><rect x="56" width="4" height="4" fill="#00ffa3"/><rect x="60" width="4" height="4" fill="#00ff9f"/><rect x="64" width="4" height="4" fill="#00ff9c"/><rect x="68" width="4" height="4" fill="#00ff98"/><rect x="72" width="4" height="4" fill="#00ff94"/><rect x="76" width="4" height="4" fill="#50ff90"/><rect x="80" width="4" height="4" fill="#6eff8c"/><rect x="84" width="4" height="4" fill="#85ff87"/><rect x="88" width="4" height="4" fill="#95ff82"/><rect x="92" width="4" height="4" fill="#a3ff7c"/><rect x="96" width="4" height="4" fill="#b0ff76"/><rect x="100" width="4" height="4" fill="#bcff70"/><rect x="104" width="4" height="4" fill="#c8ff69"/><rect x="108" width="4" height="4" fill="#d3ff61"/><rect x="112" width="4" height="4" fill="#deff57"/><rect x="116" width="4" height="4" fill="#e9ff4c"/><rect x="120" width="4" height="4" fill="#f3ff3e"/><rect x="124" width="4" height="4" fill="#fdff2a"/><rect x="128" width="4" height="4" fill="#fff700"/><rect x="132" width="4" height="4" fill="#ffee00"/><rect x="136" width="4" height="4" fill="#ffe600"/><rect x="140" width="4" height="4" fill="#ffde00"/><rect x="144" width="4" height="4" fill="#ffd700"/></g>
<g transform="translate(0 104)"><rect x="0" width="4" height="4" fill="#00ffca"/><rect x="4" width="4" height="4" fill="#00ffc8"/><rect x="8" width="4" height="4" fill="#00ffc6"/><rect x="12" width="4" height="4" fill="#00ffc4"/><rect x="16" width="4" height="4" fill="#00ffc2"/><rect x="20" width="4" height="4" fill="#00ffc0"/><rect x="24" width="4" height="4" fill="#00ffbe"/><rect x="28" width="4" height="4" fill="#00ffbc"/><rect x="32" width="4" height="4" fill="#00ffb9"/><rect x="36" width="4" height="4" fill="#00ffb7"/><rect x="40" width="4" height="4" fill="#00ffb4"/><rect x="44" width="4" height="4" fill="#00ffb2"/><rect x="48" width="4" height="4" fill="#00ffaf"/><rect x="52" width="4" height="4" fill="#00ffac"/><rect x="56" width="4" height="4" fill="#00ffa9"/><rect x="60" width="4" height="4" fill="#00ffa6"/><rect x="64" width="4" height="4" fill="#00ffa2"/><rect x="68" width="4" height="4" fill="#00ff9f"/><rect x="72" width="4" height="4" fill="#18ff9b"/><rect x="76" width="4" height="4" fill="#53ff97"/><rect x="80" width="4" height="4" fill="#71ff93"/><rect x="84" width="4" height="4" fill="#88ff8f"/><rect x="88" width="4" height="4" fill="#99ff8a"/><rect x="92" width="4" height="4" fill="#a7ff85"/><rect x="96" width="4" height="4" fill="#b4ff7f"/><rect x="100" width="4" height="4" fill="#c1ff79"/><rect x="104" width="4" height="4" fill="#ccff72"/><rect x="108" width="4" height="4" fill="#d8ff6b"/><rect x="112" width="4" height="4" fill="#e3ff63"/><rect x="116" width="4" height="4" fill="#eeff59"/><rect x="120" width="4" height="4" fill="#f8ff4e"/><rect x="124" width="4" height="4" fill="#fffc3f"/><rect x="128" width="4" height="4" fill="#fff22a"/><rect x="132" width="4" height="4" fill="#ffe900"/><rect x="136" width="4" height="4" fill="#ffe100"/><rect x="140" width="4" height="4" fill="#ffda00"/><rect x="144" width="4" height="4" fill="#ffd300"/><rect x="148" width="4" height="4" fill="#ffcc00"/></g>
<g transform="translate(0 108)"><rect x="0" width="4" height="4" fill="#00ffcf"/><rect x="4" width="4" height="4" fill="#00ffcd"/><rect x="8" width="4" height="4" fill="#00ffcc"/><rect x="12" width="4" height="4" fill="#00ffca"/><rect x="16" width="4" height="4" fill="#00ffc8"/><rect x="20" width="4" height="4" fill="#00ffc6"/><rect x="24" width="4" height="4" fill="#00ffc4"/><rect x="28" width="4" height="4" fill="#00ffc1"/><rect x="32" width="4" height="4" fill="#00ffbf"/><rect x="36" width="4" height="4" fill="#00ffbd"/><rect x="40" width="4" height="4" fill="#00ffba"/><rect x="44" width="4" height="4" fill="#00ffb8"/><rect x="48" width="4" height="4" fill="#00ffb5"/><rect x="52" width="4" height="4" fill="#00ffb2"/><rect x="56" width="4" height="4" fill="#00ffaf"/><rect x="60" width="4" height="4" fill="#00ffac"/><rect x="64" width="4" height="4" fill="#00ffa9"/><rect x="68" width="4" height="4" fill="#00ffa6"/><rect x="72" width="4" height="4" fill="#22ffa2"/><rect x="76" width="4" height="4" fill="#57ff9e"/><rect x="80" width="4" height="4" fill="#75ff9a"/><rect x="84" width="4" height="4" fill="#8cff96"/><rect x="88" width="4" height="4" fill="#9dff92"/><rect x="92" width="4" height="4" fill="#abff8d"/><rect x="96" width="4" height="4" fill="#b9ff88"/><rect x="100" width="4" height="4" fill="#c5ff82"/><rect x="104" width="4" height="4" fill="#d1ff7c"/><rect x="108" width="4" height="4" fill="#ddff75"/><rect x="112" width="4" height="4" fill="#e8ff6e"/><rect x="116" width="4" height="4" fill="#f3ff65"/><rect x="120" width="4" height="4" fill="#feff5c"/><rect x="124" width="4" height="4" fill="#fff64e"/><rect x="128" width="4" height="4" fill="#ffed3d"/><rect x="132" width="4" height="4" fill="#ffe429"/><rect x="136" width="4" height="4" fill="#ffdd00"/><rect x="140" width="4" height="4" fill="#ffd500"/><rect x="144" width="4" height="4" fill="#ffce00"/><rect x="148" width="4" height="4" fill="#ffc800"/><rect x="152" width="4" height="4" fill="#ffc200"/></g>
<g transform="translate(0 112)"><rect x="0" width="4" height="4" fill="#00ffd4"/><rect x="4" width="4" height="4" fill="#00ffd3"/><rect x="8" width="4" height="4" fill="#00ffd1"/><rect x="12" width="4" height="4" fill="#00ffcf"/><rect x="16" width="4" height="4" fill="#00ffcd"/><rect x="20" width="4" height="4" fill="#00ffcb"/><rect x="24" width="4" height="4" fill="#00ffc9"/><rect x="28" width="4" height="4" fill="#00ffc7"/><rect x="32" width="4" height="4" fill="#00ffc5"/><rect x="36" width="4" height="4" fill="#00ffc3"/><rect x="40" width="4" height="4" fill="#00ffc0"/><rect x="44" width="4" height="4" fill="#00ffbe"/><rect x="48" width="4" height="4" fill="#00ffbb"/><rect x="52" width="4" height="4" fill="#00ffb9"/><rect x="56" width="4" height="4" fill="#00ffb6"/><rect x="60" width="4" height="4" fill="#00ffb3"/><rect x="64" width="4" height="4" fill="#00ffb0"/><rect x="68" width="4" height="4" fill="#00ffad"/><rect x="72" width="4" height="4" fill="#2affa9"/><rect x="76" width="4" height="4" fill="#5bffa6"/><rect x="80" width="4" height="4" fill="#78ffa2"/><rect x="84" width="4" height="4" fill="#8fff9e"/><rect x="88" width="4" height="4" fill="#a2ff99"/><rect x="92" width="4" height="4" fill="#b0ff95"/><rect x="96" width="4" height="4" fill="#bdff90"/><rect x="100" width="4" height="4" fill="#caff8b"/><rect x="104" width="4" height="4" fill="#d6ff85"/><rect x="108" width="4" height="4" fill="#e2ff7f"/><rect x="112" width="4" height="4" fill="#edff78"/><rect x="116" width="4" height="4" fill="#f8ff71"/><rect x="120" width="4" height="4" fill="#fffb66"/><rect x="124" width="4" height="4" fill="#fff159"/><rect x="128" width="4" height="4" fill="#ffe84b"/><rect x="132" width="4" height="4" fill="#ffdf3c"/><rect x="136" width="4" height="4" fill="#ffd828"/><rect x="140" width="4" height="4" fill="#ffd100"/><rect x="144" width="4" height="4" fill="#ffca00"/><rect x="148" width="4" height="4" fill="#ffc400"/><rect x="152" width="4" height="4" fill="#ffbe00"/><rect x="156" width="4" height="4" fill="#ffb800"/></g>
<g transform="translate(0 116)"><rect x="0" width="4" height="4" fill="#00ffda"/><rect x="4" width="4" height="4" fill="#00ffd8"/><rect x="8" width="4" height="4" fill="#00ffd6"/><rect x="12" width="4" height="4" fill="#00ffd5"/><rect x="16" width="4" height="4" fill="#00ffd3"/><rect x="20" width="4" height="4" fill="#00ffd1"/><rect x="24" width="4" height="4" fill="#00ffcf"/><rect x="28" width="4" height="4" fill="#00ffcd"/><rect x="32" width="4" height="4" fill="#00ffcb"/><rect x="36" width="4" height="4" fill="#00ffc9"/><rect x="40" width="4" height="4" fill="#00ffc6"/><rect x="44" width="4" height="4" fill="#00ffc4"/><rect x="48" width="4" height="4" fill="#00ffc2"/><rect x="52" width="4" height="4" fill="#00ffbf"/><rect x="56" width="4" height="4" fill="#00ffbc"/><rect x="60" width="4" height="4" fill="#00ffba"/><rect x="64" width="4" height="4" fill="#00ffb7"/><rect x="68" width="4" height="4" fill="#00ffb4"/><rect x="72" width="4" height="4" fill="#31ffb0"/><rect x="76" width="4" height="4" fill="#5fffad"/><rect x="80" width="4" height="4" fill="#7cffa9"/><rect x="84" width="4" height="4" fill="#93ffa5"/><rect x="88" width="4" height="4" fill="#a6ffa1"/><rect x="92" width="4" height="4" fill="#b4ff9d"/><rect x="96" width="4" height="4" fill="#c2ff98"/><rect x="100" width="4" height="4" fill="#cfff94"/><rect x="104" width="4" height="4" fill="#dbff8e"/><rect x="108" width="4" height="4" fill="#e7ff88"/><rect x="112" width="4" height="4" fill="#f3ff82"/><rect x="116" width="4" height="4" fill="#feff7b"/><rect x="120" width="4" height="4" fill="#fff56f"/><rect x="124" width="4" height="4" fill="#ffec63"/><rect x="128" width="4" height="4" fill="#ffe356"/><rect x="132" width="4" height="4" fill="#ffda49"/><rect x="136" width="4" height="4" fill="#ffd33a"/><rect x="140" width="4" height="4" fill="#ffcc27"/><rect x="144" width="4" height="4" fill="#ffc500"/><rect x="148" width="4" height="4" fill="#ffbf00"/><rect x="152" width="4" height="4" fill="#ffb900"/><rect x="156" width="4" height="4" fill="#ffb400"/><rect x="160" width="4" height="4" fill="#ffaf00"/></g>
<g transform="translate(0 120)"><rect x="0" width="4" height="4" fill="#00ffdf"/><rect x="4" width="4" height="4" fill="#00ffde"/><rect x="8" width="4" height="4" fill="#00ffdc"/><rect x="12" width="4" height="4" fill="#00ffda"/><rect x="16" width="4" height="4" fill="#00ffd9"/><rect x="20" width="4" height="4" fill="#00ffd7"/><rect x="24" width="4" height="4" fill="#00ffd5"/><rect x="28" width="4" height="4" fill="#00ffd3"/><rect x="32" width="4" height="4" fill="#00ffd1"/><rect x="36" width="4" height="4" fill="#00ffcf"/><rect x="40" width="4" height="4" fill="#00ffcd"/><rect x="44" width="4" height="4" fill="#00ffca"/><rect x="48" width="4" height="4" fill="#00ffc8"/><rect x="52" width="4" height="4" fill="#00ffc6"/><rect x="56" width="4" height="4" fill="#00ffc3"/><rect x="60" width="4" height="4" fill="#00ffc0"/><rect x="64" width="4" height="4" fill="#00ffbe"/><rect x="68" width="4" height="4" fill="#00ffbb"/><rect x="72" width="4" height="4" fill="#37ffb8"/><rect x="76" width="4" height="4" fill="#63ffb4"/><rect x="80" width="4" height="4" fill="#80ffb1"/><rect x="84" width="4" height="4" fill="#97ffad"/><rect x="88" width="4" height="4" fill="#abffa9"/><rect x="92" width="4" height="4" fill="#b9ffa5"/><rect x="96" width="4" height="4" fill="#c7ffa1"/><rect x="100" width="4" height="4" fill="#d4ff9c"/><rect x="104" width="4" height="4" fill="#e0ff97"/><rect x="108" width="4" height="4" fill="#edff92"/><rect x="112" width="4" height="4" fill="#f8ff8c"/><rect x="116" width="4" height="4" fill="#fffa83"/><rect x="120" width="4" height="4" fill="#fff077"/><rect x="124" width="4" height="4" fill="#ffe66b"/><rect x="128" width="4" height="4" fill="#ffdd60"/><rect x="132" width="4" height="4" fill="#ffd554"/><rect x="136" width="4" height="4" fill="#ffce47"/><rect x="140" width="4" height="4" fill="#ffc739"/><rect x="144" width="4" height="4" fill="#ffc127"/><rect x="148" width="4" height="4" fill="#ffbb00"/><rect x="152" width="4" height="4" fill="#ffb500"/><rect x="156" width="4" height="4" fill="#ffaf00"/><rect x="160" width="4" height="4" fill="#ffaa00"/><rect x="164" width="4" height="4" fill="#ffa500"/></g>
<g transform="translate(0 124)"><rect x="0" width="4" height="4" fill="#00ffe5"/><rect x="4" width="4" height="4" fill="#00ffe3"/><rect x="8" width="4" height="4" fill="#00ffe2"/><rect x="12" width="4" height="4" fill="#00ffe0"/><rect x="16" width="4" height="4" fill="#00ffde"/><rect x="20" width="4" height="4" fill="#00ffdd"/><rect x="24" width="4" height="4" fill="#00ffdb"/><rect x="28" width="4" height="4" fill="#00ffd9"/><rect x="32" width="4" height="4" fill="#00ffd7"/><rect x="36" width="4" height="4" fill="#00ffd5"/><rect x="40" width="4" height="4" fill="#00ffd3"/><rect x="44" width="4" height="4" fill="#00ffd1"/><rect x="48" width="4" height="4" fill="#00ffcf"/><rect x="52" width="4" height="4" fill="#00ffcc"/><rect x="56" width="4" height="4" fill="#00ffca"/><rect x="60" width="4" height="4" fill="#00ffc7"/><rect x="64" width="4" height="4" fill="#00ffc5"/><rect x="68" width="4" height="4" fill="#00ffc2"/><rect x="72" width="4" height="4" fill="#3dffbf"/><rect x="76" width="4" height="4" fill="#67ffbc"/><rect x="80" width="4" height="4" fill="#84ffb9"/><rect x="84" width="4" height="4" fill="#9bffb5"/><rect x="88" width="4" height="4" fill="#afffb1"/><rect x="92" width="4" height="4" fill="#beffae"/><rect x="96" width="4" height="4" fill="#ccffaa"/><rect x="100" width="4" height="4" fill="#d9ffa5"/><rect x="104" width="4" height="4" fill="#e6ffa0"/><rect x="108" width="4" height="4" fill="#f2ff9b"/><rect x="112" width="4" height="4" fill="#feff96"/><rect x="116" width="4" height="4" fill="#fff48a"/><rect x="120" width="4" height="4" fill="#ffea7e"/><rect x="124" width="4" height="4" fill="#ffe173"/><rect x="128" width="4" height="4" fill="#ffd868"/><rect x="132" width="4" height="4" fill="#ffd05d"/><rect x="136" width="4" height="4" fill="#ffc951"/><rect x="140" width="4" height="4" fill="#ffc245"/><rect x="144" width="4" height="4" fill="#ffbc38"/><rect x="148" width="4" height="4" fill="#ffb626"/><rect x="152" width="4" height="4" fill="#ffb000"/><rect x="156" width="4" height="4" fill="#ffab00"/><rect x="160" width="4" height="4" fill="#ffa600"/><rect x="164" width="4" height="4" fill="#ffa100"/><rect x="168" width="4" height="4" fill="#ff9c00"/></g>
<g transform="translate(0 128)"><rect x="0" width="4" height="4" fill="#00ffea"/><rect x="4" width="4" height="4" fill="#00ffe9"/><rect x="8" width="4" height="4" fill="#00ffe7"/><rect x="12" width="4" height="4" fill="#00ffe6"/><rect x="16" width="4" height="4" fill="#00ffe4"/><rect x="20" width="4" height="4" fill="#00ffe3"/><rect x="24" width="4" height="4" fill="#00ffe1"/><rect x="28" width="4" height="4" fill="#00ffdf"/><rect x="32" width="4" height="4" fill="#00ffdd"/><rect x="36" width="4" height="4" fill="#00ffdc"/><rect x="40" width="4" height="4" fill="#00ffda"/><rect x="44" width="4" height="4" fill="#00ffd8"/><rect x="48" width="4" height="4" fill="#00ffd5"/><rect x="52" width="4" height="4" fill="#00ffd3"/><rect x="56" width="4" height="4" fill="#00ffd1"/><rect x="60" width="4" height="4" fill="#00ffce"/><rect x="64" width="4" height="4" fill="#00ffcc"/><rect x="68" width="4" height="4" fill="#00ffc9"/><rect x="72" width="4" height="4" fill="#42ffc6"/><rect x="76" width="4" height="4" fill="#6bffc4"/><rect x="80" width="4" height="4" fill="#88ffc0"/><rect x="84" width="4" height="4" fill="#9fffbd"/><rect x="88" width="4" height="4" fill="#b4ffba"/><rect x="92" width="4" height="4" fill="#c4ffb6"/><rect x="96" width="4" height="4" fill="#d2ffb2"/><rect x="100" width="4" height="4" fill="#dfffae"/><rect x="104" width="4" height="4" fill="#ecffaa"/><rect x="108" width="4" height="4" fill="#f9ffa5"/><rect x="112" width="4" height="4" fill="#fff99c"/><rect x="116" width="4" height="4" fill="#ffee90"/><rect x="120" width="4" height="4" fill="#ffe485"/><rect x="124" width="4" height="4" fill="#ffdb7a"/><rect x="128" width="4" height="4" fill="#ffd36f"/><rect x="132" width="4" height="4" fill="#ffcb65"/><rect x="136" width="4" height="4" fill="#ffc45a"/><rect x="140" width="4" height="4" fill="#ffbd4f"/><rect x="144" width="4" height="4" fill="#ffb744"/><rect x="148" width="4" height="4" fill="#ffb136"/><rect x="152" width="4" height="4" fill="#ffac26"/><rect x="156" width="4" height="4" fill="#ffa600"/><rect x="160" width="4" height="4" fill="#ffa100"/><rect x="164" width="4" height="4" fill="#ff9c00"/><rect x="168" width="4" height="4" fill="#ff9800"/><rect x="172" width="4" height="4" fill="#ff9400"/></g>
<g transform="translate(0 132)"><rect x="0" width="4" height="4" fill="#00fff0"/><rect x="4" width="4" height="4" fill="#00ffef"/><rect x="8" width="4" height="4" fill="#00ffed"/><rect x="12" width="4" height="4" fill="#00ffec"/><rect x="16" width="4" height="4" fill="#00ffeb"/><rect x="20" width="4" height="4" fill="#00ffe9"/><rect x="24" width="4" height="4" fill="#00ffe7"/><rect x="28" width="4" height="4" fill="#00ffe6"/><rect x="32" width="4" height="4" fill="#00ffe4"/><rect x="36" width="4" height="4" fill="#00ffe2"/><rect x="40" width="4" height="4" fill="#00ffe0"/><rect x="44" width="4" height="4" fill="#00ffde"/><rect x="48" width="4" height="4" fill="#00ffdc"/><rect x="52" width="4" height="4" fill="#00ffda"/><rect x="56" width="4" height="4" fill="#00ffd8"/><rect x="60" width="4" height="4" fill="#00ffd6"/><rect x="64" width="4" height="4" fill="#00ffd3"/><rect x="68" width="4" height="4" fill="#00ffd1"/><rect x="72" width="4" height="4" fill="#47ffce"/><rect x="76" width="4" height="4" fill="#70ffcb"/><rect x="80" width="4" height="4" fill="#8cffc9"/><rect x="84" width="4" height="4" fill="#a4ffc5"/><rect x="88" width="4" height="4" fill="#b9ffc2"/><rect x="92" width="4" height="4" fill="#c9ffbf"/><rect x="96" width="4" height="4" fill="#d7ffbb"/><rect x="100" width="4" height="4" fill="#e5ffb7"/><rect x="104" width="4" height="4" fill="#f2ffb3"/><rect x="108" width="4" height="4" fill="#ffffaf"/><rect x="112" width="4" height="4" fill="#fff3a2"/><rect x="116" width="4" height="4" fill="#ffe896"/><rect x="120" width="4" height="4" fill="#ffde8b"/><rect x="124" width="4" height="4" fill="#ffd680"/><rect x="128" width="4" height="4" fill="#ffcd76"/><rect x="132" width="4" height="4" fill="#ffc66c"/><rect x="136" width="4" height="4" fill="#ffbf62"/><rect x="140" width="4" height="4" fill="#ffb858"/><rect x="144" width="4" height="4" fill="#ffb24d"/><rect x="148" width="4" height="4" fill="#ffac42"/><rect x="152" width="4" height="4" fill="#ffa735"/><rect x="156" width="4" height="4" fill="#ffa225"/><rect x="160" width="4" height="4" fill="#ff9d00"/><rect x="164" width="4" height="4" fill="#ff9800"/><rect x="168" width="4" height="4" fill="#ff9300"/><rect x="172" width="4" height="4" fill="#ff8f00"/><rect x="176" width="4" height="4" fill="#ff8b00"/></g>
<g transform="translate(0 136)"><rect x="0" width="4" height="4" fill="#00fff6"/><rect x="4" width="4" height="4" fill="#00fff5"/><rect x="8" width="4" height="4" fill="#00fff4"/><rect x="12" width="4" height="4" fill="#00fff2"/><rect x="16" width="4" height="4" fill="#00fff1"/><rect x="20" width="4" height="4" fill="#00ffef"/><rect x="24" width="4" height="4" fill="#00ffee"/><rect x="28" width="4" height="4" fill="#00ffec"/><rect x="32" width="4" height="4" fill="#00ffeb"/><rect x="36" width="4" height="4" fill="#00ffe9"/><rect x="40" width="4" height="4" fill="#00ffe7"/><rect x="44" width="4" height="4" fill="#00ffe5"/><rect x="48" width="4" height="4" fill="#00ffe4"/><rect x="52" width="4" height="4" fill="#00ffe2"/><rect x="56" width="4" height="4" fill="#00ffdf"/><rect x="60" width="4" height="4" fill="#00ffdd"/><rect x="64" width="4" height="4" fill="#00ffdb"/><rect x="68" width="4" height="4" fill="#00ffd9"/><rect x="72" width="4" height="4" fill="#4dffd6"/><rect x="76" width="4" height="4" fill="#74ffd4"/><rect x="80" width="4" height="4" fill="#91ffd1"/><rect x="84" width="4" height="4" fill="#a8ffce"/><rect x="88" width="4" height="4" fill="#bdffcb"/><rect x="92" width="4" height="4" fill="#cfffc8"/><rect x="96" width="4" height="4" fill="#ddffc4"/><rect x="100" width="4" height="4" fill="#ebffc1"/><rect x="104" width="4" height="4" fill="#f9ffbd"/><rect x="108" width="4" height="4" fill="#fff8b4"/><rect x="112" width="4" height="4" fill="#ffeda7"/><rect x="116" width="4" height="4" fill="#ffe29b"/><rect x="120" width="4" height="4" fill="#ffd991"/><rect x="124" width="4" height="4" fill="#ffd086"/><rect x="128" width="4" height="4" fill="#ffc87c"/><rect x="132" width="4" height="4" fill="#ffc172"/><rect x="136" width="4" height="4" fill="#ffba69"/><rect x="140" width="4" height="4" fill="#ffb35f"/><rect x="144" width="4" height="4" fill="#ffad56"/><rect x="148" width="4" height="4" fill="#ffa74c"/><rect x="152" width="4" height="4" fill="#ffa241"/><rect x="156" width="4" height="4" fill="#ff9d34"/><rect x="160" width="4" height="4" fill="#ff9825"/><rect x="164" width="4" height="4" fill="#ff9300"/><rect x="168" width="4" height="4" fill="#ff8f00"/><rect x="172" width="4" height="4" fill="#ff8a00"/><rect x="176" width="4" height="4" fill="#ff8600"/><rect x="180" width="4" height="4" fill="#ff8200"/></g>
<g transform="translate(0 140)"><rect x="0" width="4" height="4" fill="#00fffc"/><rect x="4" width="4" height="4" fill="#00fffb"/><rect x="8" width="4" height="4" fill="#00fffa"/><rect x="12" width="4" height="4" fill="#00fff9"/><rect x="16" width="4" height="4" fill="#00fff7"/><rect x="20" width="4" height="4" fill="#00fff6"/><rect x="24" width="4" height="4" fill="#00fff5"/><rect x="28" width="4" height="4" fill="#00fff3"/><rect x="32" width="4" height="4" fill="#00fff2"/><rect x="36" width="4" height="4" fill="#00fff0"/><rect x="40" width="4" height="4" fill="#00ffee"/><rect x="44" width="4" height="4" fill="#00ffed"/><rect x="48" width="4" height="4" fill="#00ffeb"/><rect x="52" width="4" height="4" fill="#00ffe9"/><rect x="56" width="4" height="4" fill="#00ffe7"/><rect x="60" width="4" height="4" fill="#00ffe5"/><rect x="64" width="4" height="4" fill="#00ffe3"/><rect x="68" width="4" height="4" fill="#00ffe1"/><rect x="72" width="4" height="4" fill="#52ffde"/><rect x="76" width="4" height="4" fill="#79ffdc"/><rect x="80" width="4" height="4" fill="#95ffd9"/><rect x="84" width="4" height="4" fill="#adffd7"/><rect x="88" width="4" height="4" fill="#c3ffd4"/><rect x="92" width="4" height="4" fill="#d5ffd1"/><rect x="96" width="4" height="4" fill="#e4ffce"/><rect x="100" width="4" height="4" fill="#f2ffca"/><rect x="104" width="4" height="4" fill="#fffec6"/><rect x="108" width="4" height="4" fill="#fff2b8"/><rect x="112" width="4" height="4" fill="#ffe6ac"/><rect x="116" width="4" height="4" fill="#ffdca1"/><rect x="120" width="4" height="4" fill="#ffd396"/><rect x="124" width="4" height="4" fill="#ffca8c"/><rect x="128" width="4" height="4" fill="#ffc282"/><rect x="132" width="4" height="4" fill="#ffbb78"/><rect x="136" width="4" height="4" fill="#ffb46f"/><rect x="140" width="4" height="4" fill="#ffae66"/><rect x="144" width="4" height="4" fill="#ffa85d"/><rect x="148" width="4" height="4" fill="#ffa254"/><rect x="152" width="4" height="4" fill="#ff9d4a"/><rect x="156" width="4" height="4" fill="#ff983f"/><rect x="160" width="4" height="4" fill="#ff9333"/><rect x="164" width="4" height="4" fill="#ff8e24"/><rect x="168" width="4" height="4" fill="#ff8a00"/><rect x="172" width="4" height="4" fill="#ff8600"/><rect x="176" width="4" height="4" fill="#ff8200"/><rect x="180" width="4" height="4" fill="#ff7e00"/><rect x="184" width="4" height="4" fill="#ff7a00"/></g>
<g transform="translate(0 144)"><rect x="0" width="4" height="4" fill="#00fbff"/><rect x="4" width="4" height="4" fill="#00fcff"/><rect x="8" width="4" height="4" fill="#00fdff"/><rect x="12" width="4" height="4" fill="#00ffff"/><rect x="16" width="4" height="4" fill="#00fffe"/><rect x="20" width="4" height="4" fill="#00fffd"/><rect x="24" width="4" height="4" fill="#00fffc"/><rect x="28" width="4" height="4" fill="#00fffa"/><rect x="32" width="4" height="4" fill="#00fff9"/><rect x="36" width="4" height="4" fill="#00fff7"/><rect x="40" width="4" height="4" fill="#00fff6"/><rect x="44" width="4" height="4" fill="#00fff4"/><rect x="48" width="4" height="4" fill="#00fff3"/><rect x="52" width="4" height="4" fill="#00fff1"/><rect x="56" width="4" height="4" fill="#00ffef"/><rect x="60" width="4" height="4" fill="#00ffed"/><rect x="64" width="4" height="4" fill="#00ffeb"/><rect x="68" width="4" height="4" fill="#00ffe9"/><rect x="72" width="4" height="4" fill="#57ffe7"/><rect x="76" width="4" height="4" fill="#7dffe5"/><rect x="80" width="4" height="4" fill="#9affe2"/><rect x="84" width="4" height="4" fill="#b2ffe0"/><rect x="88" width="4" height="4" fill="#c8ffdd"/><rect x="92" width="4" height="4" fill="#dcffda"/><rect x="96" width="4" height="4" fill="#ebffd7"/><rect x="100" width="4" height="4" fill="#f9ffd4"/><rect x="104" width="4" height="4" fill="#fff7ca"/><rect x="108" width="4" height="4" fill="#ffebbd"/><rect x="112" width="4" height="4" fill="#ffe0b1"/><rect x="116" width="4" height="4" fill="#ffd6a5"/><rect x="120" width="4" height="4" fill="#ffcd9b"/><rect x="124" width="4" height="4" fill="#ffc491"/><rect x="128" width="4" height="4" fill="#ffbd87"/><rect x="132" width="4" height="4" fill="#ffb67e"/><rect x="136" width="4" height="4" fill="#ffaf75"/><rect x="140" width="4" height="4" fill="#ffa96c"/><rect x="144" width="4" height="4" fill="#ffa364"/><rect x="148" width="4" height="4" fill="#ff9d5b"/><rect x="152" width="4" height="4" fill="#ff9852"/><rect x="156" width="4" height="4" fill="#ff9348"/><rect x="160" width="4" height="4" fill="#ff8e3e"/><rect x="164" width="4" height="4" fill="#ff8a33"/><rect x="168" width="4" height="4" fill="#ff8524"/><rect x="172" width="4" height="4" fill="#ff8100"/><rect x="176" width="4" height="4" fill="#ff7d00"/><rect x="180" width="4" height="4" fill="#ff7900"/><rect x="184" width="4" height="4" fill="#ff7500"/><rect x="188" width="4" height="4" fill="#ff7100"/></g>
<g transform="translate(0 148)"><rect x="0" width="4" height="4" fill="#00f5ff"/><rect x="4" width="4" height="4" fill="#00f6ff"/><rect x="8" width="4" height="4" fill="#00f7ff"/><rect x="12" width="4" height="4" fill="#00f8ff"/><rect x="16" width="4" height="4" fill="#00f9ff"/><rect x="20" width="4" height="4" fill="#00faff"/><rect x="24" width="4" height="4" fill="#00fbff"/><rect x="28" width="4" height="4" fill="#00fdff"/><rect x="32" width="4" height="4" fill="#00feff"/><rect x="36" width="4" height="4" fill="#00ffff"/><rect x="40" width="4" height="4" fill="#00fffd"/><rect x="44" width="4" height="4" fill="#00fffc"/><rect x="48" width="4" height="4" fill="#00fffb"/><rect x="52" width="4" height="4" fill="#00fff9"/><rect x="56" width="4" height="4" fill="#00fff7"/><rect x="60" width="4" height="4" fill="#00fff6"/><rect x="64" width="4" height="4" fill="#00fff4"/><rect x="68" width="4" height="4" fill="#00fff2"/><rect x="72" width="4" height="4" fill="#5cfff0"/><rect x="76" width="4" height="4" fill="#82ffee"/><rect x="80" width="4" height="4" fill="#9fffec"/><rect x="84" width="4" height="4" fill="#b8ffe9"/><rect x="88" width="4" height="4" fill="#ceffe7"/><rect x="92" width="4" height="4" fill="#e2ffe4"/><rect x="96" width="4" height="4" fill="#f2ffe1"/><rect x="100" width="4" height="4" fill="#fffedd"/><rect x="104" width="4" height="4" fill="#fff0ce"/><rect x="108" width="4" height="4" fill="#ffe4c1"/><rect x="112" width="4" height="4" fill="#ffd9b5"/><rect x="116" width="4" height="4" fill="#ffd0aa"/><rect x="120" width="4" height="4" fill="#ffc79f"/><rect x="124" width="4" height="4" fill="#ffbf96"/><rect x="128" width="4" height="4" fill="#ffb78c"/><rect x="132" width="4" height="4" fill="#ffb083"/><rect x="136" width="4" height="4" fill="#ffaa7b"/><rect x="140" width="4" height="4" fill="#ffa372"/><rect x="144" width="4" height="4" fill="#ff9e6a"/><rect x="148" width="4" height="4" fill="#ff9861"/><rect x="152" width="4" height="4" fill="#ff9359"/><rect x="156" width="4" height="4" fill="#ff8e50"/><rect x="160" width="4" height="4" fill="#ff8947"/><rect x="164" width="4" height="4" fill="#ff843d"/><rect x="168" width="4" height="4" fill="#ff8032"/><rect x="172" width="4" height="4" fill="#ff7c23"/><rect x="176" width="4" height="4" fill="#ff7800"/><rect x="180" width="4" height="4" fill="#ff7400"/><rect x="184" width="4" height="4" fill="#ff7000"/><rect x="188" width="4" height="4" fill="#ff6c00"/><rect x="192" width="4" height="4" fill="#ff6800"/></g>
<g transform="translate(0 152)"><rect x="0" width="4" height="4" fill="#00efff"/><rect x="4" width="4" height="4" fill="#00f0ff"/><rect x="8" width="4" height="4" fill="#00f1ff"/><rect x="12" width="4" height="4" fill="#00f1ff"/><rect x="16" width="4" height="4" fill="#00f2ff"/><rect x="20" width="4" height="4" fill="#00f3ff"/><rect x="24" width="4" height="4" fill="#00f4ff"/><rect x="28" width="4" height="4" fill="#00f5ff"/><rect x="32" width="4" height="4" fill="#00f6ff"/><rect x="36" width="4" height="4" fill="#00f8ff"/><rect x="40" width="4" height="4" fill="#00f9ff"/><rect x="44" width="4" height="4" fill="#00faff"/><rect x="48" width="4" height="4" fill="#00fbff"/><rect x="52" width="4" height="4" fill="#00fdff"/><rect x="56" width="4" height="4" fill="#00feff"/><rect x="60" width="4" height="4" fill="#00fffe"/><rect x="64" width="4" height="4" fill="#00fffd"/><rect x="68" width="4" height="4" fill="#00fffb"/><rect x="72" width="4" height="4" fill="#62fff9"/><rect x="76" width="4" height="4" fill="#87fff7"/><rect x="80" width="4" height="4" fill="#a5fff5"/><rect x="84" width="4" height="4" fill="#bdfff3"/><rect x="88" width="4" height="4" fill="#d4fff1"/><rect x="92" width="4" height="4" fill="#e8ffee"/><rect x="96" width="4" height="4" fill="#f9ffec"/><rect x="100" width="4" height="4" fill="#fff6e1"/><rect x="104" width="4" height="4" fill="#ffe9d2"/><rect x="108" width="4" height="4" fill="#ffddc5"/><rect x="112" width="4" height="4" fill="#ffd3b9"/><rect x="116" width="4" height="4" fill="#ffc9ae"/><rect x="120" width="4" height="4" fill="#ffc1a4"/><rect x="124" width="4" height="4" fill="#ffb99a"/><rect x="128" width="4" height="4" fill="#ffb191"/><rect x="132" width="4" height="4" fill="#ffaa88"/><rect x="136" width="4" height="4" fill="#ffa480"/><rect x="140" width="4" height="4" fill="#ff9e77"/><rect x="144" width="4" height="4" fill="#ff986f"/><rect x="148" width="4" height="4" fill="#ff9367"/><rect x="152" width="4" height="4" fill="#ff8e5f"/><rect x="156" width="4" height="4" fill="#ff8957"/><rect x="160" width="4" height="4" fill="#ff844f"/><rect x="164" width="4" height="4" fill="#ff7f46"/><rect x="168" width="4" height="4" fill="#ff7b3c"/><rect x="172" width="4" height="4" fill="#ff7631"/><rect x="176" width="4" height="4" fill="#ff7223"/><rect x="180" width="4" height="4" fill="#ff6e00"/><rect x="184" width="4" height="4" fill="#ff6a00"/><rect x="188" width="4" height="4" fill="#ff6600"/><rect x="192" width="4" height="4" fill="#ff6300"/><rect x="196" width="4" height="4" fill="#ff5f00"/></g>
<g transform="translate(0 156)"><rect x="0" width="4" height="4" fill="#00e9ff"/><rect x="4" width="4" height="4" fill="#00eaff"/><rect x="8" width="4" height="4" fill="#00eaff"/><rect x="12" width="4" height="4" fill="#00ebff"/><rect x="16" width="4" height="4" fill="#00ecff"/><rect x="20" width="4" height="4" fill="#00edff"/><rect x="24" width="4" height="4" fill="#00edff"/><rect x="28" width="4" height="4" fill="#00eeff"/><rect x="32" width="4" height="4" fill="#00efff"/><rect x="36" width="4" height="4" fill="#00f0ff"/><rect x="40" width="4" height="4" fill="#00f1ff"/><rect x="44" width="4" height="4" fill="#00f2ff"/><rect x="48" width="4" height="4" fill="#00f3ff"/><rect x="52" width="4" height="4" fill="#00f4ff"/><rect x="56" width="4" height="4" fill="#00f6ff"/><rect x="60" width="4" height="4" fill="#00f7ff"/><rect x="64" width="4" height="4" fill="#00f8ff"/><rect x="68" width="4" height="4" fill="#2afaff"/><rect x="72" width="4" height="4" fill="#68fbff"/><rect x="76" width="4" height="4" fill="#8dfdff"/><rect x="80" width="4" height="4" fill="#aaffff"/><rect x="84" width="4" height="4" fill="#c3fffd"/><rect x="88" width="4" height="4" fill="#dafffb"/><rect x="92" width="4" height="4" fill="#effff9"/><rect x="96" width="4" height="4" fill="#fffdf5"/><rect x="100" width="4" height="4" fill="#ffeee4"/><rect x="104" width="4" height="4" fill="#ffe1d6"/><rect x="108" width="4" height="4" fill="#ffd6c9"/><rect x="112" width="4" height="4" fill="#ffccbd"/><rect x="116" width="4" height="4" fill="#ffc3b2"/><rect x="120" width="4" height="4" fill="#ffbaa8"/><rect x="124" width="4" height="4" fill="#ffb39e"/><rect x="128" width="4" height="4" fill="#ffab95"/><rect x="132" width="4" height="4" fill="#ffa58d"/><rect x="136" width="4" height="4" fill="#ff9e84"/><rect x="140" width="4" height="4" fill="#ff987c"/><rect x="144" width="4" height="4" fill="#ff9375"/><rect x="148" width="4" height="4" fill="#ff8d6d"/><rect x="152" width="4" height="4" fill="#ff8865"/><rect x="156" width="4" height="4" fill="#ff835d"/><rect x="160" width="4" height="4" fill="#ff7e55"/><rect x="164" width="4" height="4" fill="#ff7a4d"/><rect x="168" width="4" height="4" fill="#ff7545"/><rect x="172" width="4" height="4" fill="#ff713b"/><rect x="176" width="4" height="4" fill="#ff6d30"/><rect x="180" width="4" height="4" fill="#ff6923"/><rect x="184" width="4" height="4" fill="#ff6502"/><rect x="188" width="4" height="4" fill="#ff6100"/><rect x="192" width="4" height="4" fill="#ff5d00"/><rect x="196" width="4" height="4" fill="#ff5900"/><rect x="200" width="4" height="4" fill="#ff5500"/></g>
<g transform="translate(0 160)"><rect x="0" width="4" height="4" fill="#00e3ff"/><rect x="4" width="4" height="4" fill="#00e3ff"/><rect x="8" width="4" height="4" fill="#00e4ff"/><rect x="12" width="4" height="4" fill="#00e5ff"/><rect x="16" width="4" height="4" fill="#00e5ff"/><rect x="20" width="4" height="4" fill="#00e6ff"/><rect x="24" width="4" height="4" fill="#00e7ff"/><rect x="28" width="4" height="4" fill="#00e7ff"/><rect x="32" width="4" height="4" fill="#00e8ff"/><rect x="36" width="4" height="4" fill="#00e9ff"/><rect x="40" width="4" height="4" fill="#00eaff"/><rect x="44" width="4" height="4" fill="#00eaff"/><rect x="48" width="4" height="4" fill="#00ebff"/><rect x="52" width="4" height="4" fill="#00ecff"/><rect x="56" width="4" height="4" fill="#00edff"/><rect x="60" width="4" height="4" fill="#00eeff"/><rect x="64" width="4" height="4" fill="#00efff"/><rect x="68" width="4" height="4" fill="#3ef1ff"/><rect x="72" width="4" height="4" fill="#6ff2ff"/><rect x="76" width="4" height="4" fill="#91f3ff"/><rect x="80" width="4" height="4" fill="#adf5ff"/><rect x="84" width="4" height="4" fill="#c5f6ff"/><rect x="88" width="4" height="4" fill="#ddf8ff"/><rect x="92" width="4" height="4" fill="#f3f9ff"/><rect x="96" width="4" height="4" fill="#fff4f8"/><rect x="100" width="4" height="4" fill="#ffe6e8"/><rect x="104" width="4" height="4" fill="#ffdada"/><rect x="108" width="4" height="4" fill="#ffcfcd"/><rect x="112" width="4" height="4" fill="#ffc5c1"/><rect x="116" width="4" height="4" fill="#ffbcb6"/><rect x="120" width="4" height="4" fill="#ffb4ac"/><rect x="124" width="4" height="4" fill="#ffaca3"/><rect x="128" width="4" height="4" fill="#ffa59a"/><rect x="132" width="4" height="4" fill="#ff9f91"/><rect x="136" width="4" height="4" fill="#ff9889"/><rect x="140" width="4" height="4" fill="#ff9281"/><rect x="144" width="4" height="4" fill="#ff8d79"/><rect x="148" width="4" height="4" fill="#ff8772"/><rect x="152" width="4" height="4" fill="#ff826a"/><rect x="156" width="4" height="4" fill="#ff7d63"/><rect x="160" width="4" height="4" fill="#ff795b"/><rect x="164" width="4" height="4" fill="#ff7454"/><rect x="168" width="4" height="4" fill="#ff704c"/><rect x="172" width="4" height="4" fill="#ff6b43"/><rect x="176" width="4" height="4" fill="#ff673a"/><rect x="180" width="4" height="4" fill="#ff6330"/><rect x="184" width="4" height="4" fill="#ff5f23"/><rect x="188" width="4" height="4" fill="#ff5b06"/><rect x="192" width="4" height="4" fill="#ff5700"/><rect x="196" width="4" height="4" fill="#ff5300"/><rect x="200" width="4" height="4" fill="#ff4f00"/><rect x="204" width="4" height="4" fill="#ff4b00"/></g>
<g transform="translate(0 164)"><rect x="0" width="4" height="4" fill="#00ddff"/><rect x="4" width="4" height="4" fill="#00ddff"/><rect x="8" width="4" height="4" fill="#00deff"/><rect x="12" width="4" height="4" fill="#00deff"/><rect x="16" width="4" height="4" fill="#00dfff"/><rect x="20" width="4" height="4" fill="#00dfff"/><rect x="24" width="4" height="4" fill="#00e0ff"/><rect x="28" width="4" height="4" fill="#00e0ff"/><rect x="32" width="4" height="4" fill="#00e1ff"/><rect x="36" width="4" height="4" fill="#00e2ff"/><rect x="40" width="4" height="4" fill="#00e2ff"/><rect x="44" width="4" height="4" fill="#00e3ff"/><rect x="48" width="4" height="4" fill="#00e4ff"/><rect x="52" width="4" height="4" fill="#00e4ff"/><rect x="56" width="4" height="4" fill="#00e5ff"/><rect x="60" width="4" height="4" fill="#00e6ff"/><rect x="64" width="4" height="4" fill="#00e7ff"/><rect x="68" width="4" height="4" fill="#4be8ff"/><rect x="72" width="4" height="4" fill="#76e9ff"/><rect x="76" width="4" height="4" fill="#95eaff"/><rect x="80" width="4" height="4" fill="#afebff"/><rect x="84" width="4" height="4" fill="#c7ecff"/><rect x="88" width="4" height="4" fill="#ddedff"/><rect x="92" width="4" height="4" fill="#f2eeff"/><rect x="96" width="4" height="4" fill="#ffecfb"/><rect x="100" width="4" height="4" fill="#ffdfeb"/><rect x="104" width="4" height="4" fill="#ffd3dd"/><rect x="108" width="4" height="4" fill="#ffc8d0"/><rect x="112" width="4" height="4" fill="#ffbec5"/><rect x="116" width="4" height="4" fill="#ffb5ba"/><rect x="120" width="4" height="4" fill="#ffadb0"/><rect x="124" width="4" height="4" fill="#ffa6a7"/><rect x="128" width="4" height="4" fill="#ff9f9e"/><rect x="132" width="4" height="4" fill="#ff9895"/><rect x="136" width="4" height="4" fill="#ff928d"/><rect x="140" width="4" height="4" fill="#ff8c85"/><rect x="144" width="4" height="4" fill="#ff877e"/><rect x="148" width="4" height="4" fill="#ff8177"/><rect x="152" width="4" height="4" fill="#ff7c6f"/><rect x="156" width="4" height="4" fill="#ff7768"/><rect x="160" width="4" height="4" fill="#ff7361"/><rect x="164" width="4" height="4" fill="#ff6e5a"/><rect x="168" width="4" height="4" fill="#ff6952"/><rect x="172" width="4" height="4" fill="#ff654b"/><rect x="176" width="4" height="4" fill="#ff6142"/><rect x="180" width="4" height="4" fill="#ff5c39"/><rect x="184" width="4" height="4" fill="#ff582f"/><rect x="188" width="4" height="4" fill="#ff5422"/><rect x="192" width="4" height="4" fill="#ff5008"/><rect x="196" width="4" height="4" fill="#ff4c00"/><rect x="200" width="4" height="4" fill="#ff4800"/><rect x="204" width="4" height="4" fill="#ff4300"/><rect x="208" width="4" height="4" fill="#ff3f00"/></g>
<g transform="translate(0 168)"><rect x="0" width="4" height="4" fill="#00d7ff"/><rect x="4" width="4" height="4" fill="#00d8ff"/><rect x="8" width="4" height="4" fill="#00d8ff"/><rect x="12" width="4" height="4" fill="#00d8ff"/><rect x="16" width="4" height="4" fill="#00d8ff"/><rect x="20" width="4" height="4" fill="#00d9ff"/><rect x="24" width="4" height="4" fill="#00d9ff"/><rect x="28" width="4" height="4" fill="#00daff"/><rect x="32" width="4" height="4" fill="#00daff"/><rect x="36" width="4" height="4" fill="#00daff"/><rect x="40" width="4" height="4" fill="#00dbff"/><rect x="44" width="4" height="4" fill="#00dbff"/><rect x="48" width="4" height="4" fill="#00dcff"/><rect x="52" width="4" height="4" fill="#00dcff"/><rect x="56" width="4" height="4" fill="#00ddff"/><rect x="60" width="4" height="4" fill="#00ddff"/><rect x="64" width="4" height="4" fill="#00deff"/><rect x="68" width="4" height="4" fill="#55dfff"/><rect x="72" width="4" height="4" fill="#7bdfff"/><rect x="76" width="4" height="4" fill="#98e0ff"/><rect x="80" width="4" height="4" fill="#b1e1ff"/><rect x="84" width="4" height="4" fill="#c8e2ff"/><rect x="88" width="4" height="4" fill="#dde3ff"/><rect x="92" width="4" height="4" fill="#efe4ff"/><rect x="96" width="4" height="4" fill="#ffe4fe"/><rect x="100" width="4" height="4" fill="#ffd7ee"/><rect x="104" width="4" height="4" fill="#ffcbe0"/><rect x="108" width="4" height="4" fill="#ffc1d4"/><rect x="112" width="4" height="4" fill="#ffb7c8"/><rect x="116" width="4" height="4" fill="#ffafbd"/><rect x="120" width="4" height="4" fill="#ffa7b3"/><rect x="124" width="4" height="4" fill="#ff9faa"/><rect x="128" width="4" height="4" fill="#ff98a2"/><rect x="132" width="4" height="4" fill="#ff9299"/><rect x="136" width="4" height="4" fill="#ff8c91"/><rect x="140" width="4" height="4" fill="#ff868a"/><rect x="144" width="4" height="4" fill="#ff8082"/><rect x="148" width="4" height="4" fill="#ff7b7b"/><rect x="152" width="4" height="4" fill="#ff7674"/><rect x="156" width="4" height="4" fill="#ff716d"/><rect x="160" width="4" height="4" fill="#ff6c66"/><rect x="164" width="4" height="4" fill="#ff685f"/><rect x="168" width="4" height="4" fill="#ff6358"/><rect x="172" width="4" height="4" fill="#ff5f51"/><rect x="176" width="4" height="4" fill="#ff5a49"/><rect x="180" width="4" height="4" fill="#ff5641"/><rect x="184" width="4" height="4" fill="#ff5139"/><rect x="188" width="4" height="4" fill="#ff4d2f"/><rect x="192" width="4" height="4" fill="#ff4922"/><rect x="196" width="4" height="4" fill="#ff4409"/><rect x="200" width="4" height="4" fill="#ff4000"/><rect x="204" width="4" height="4" fill="#ff3b00"/><rect x="208" width="4" height="4" fill="#ff3600"/><rect x="212" width="4" height="4" fill="#ff3100"/></g>
<g transform="translate(0 172)"><rect x="4" width="4" height="4" fill="#00d2ff"/><rect x="8" width="4" height="4" fill="#00d2ff"/><rect x="12" width="4" height="4" fill="#00d2ff"/><rect x="16" width="4" height="4" fill="#00d2ff"/><rect x="20" width="4" height="4" fill="#00d2ff"/><rect x="24" width="4" height="4" fill="#00d3ff"/><rect x="28" width="4" height="4" fill="#00d3ff"/><rect x="32" width="4" height="4" fill="#00d3ff"/><rect x="36" width="4" height="4" fill="#00d3ff"/><rect x="40" width="4" height="4" fill="#00d4ff"/><rect x="44" width="4" height="4" fill="#00d4ff"/><rect x="48" width="4" height="4" fill="#00d4ff"/><rect x="52" width="4" height="4" fill="#00d5ff"/><rect x="56" width="4" height="4" fill="#00d5ff"/><rect x="60" width="4" height="4" fill="#00d5ff"/><rect x="64" width="4" height="4" fill="#1cd6ff"/><rect x="68" width="4" height="4" fill="#5ed6ff"/><rect x="72" width="4" height="4" fill="#80d6ff"/><rect x="76" width="4" height="4" fill="#9bd7ff"/><rect x="80" width="4" height="4" fill="#b3d7ff"/><rect x="84" width="4" height="4" fill="#c9d8ff"/><rect x="88" width="4" height="4" fill="#dcd8ff"/><rect x="92" width="4" height="4" fill="#edd9ff"/><rect x="96" width="4" height="4" fill="#fddaff"/><rect x="100" width="4" height="4" fill="#ffcef1"/><rect x="104" width="4" height="4" fill="#ffc3e3"/><rect x="108" width="4" height="4" fill="#ffb9d7"/><rect x="112" width="4" height="4" fill="#ffb0cb"/><rect x="116" width="4" height="4" fill="#ffa7c1"/><rect x="120" width="4" height="4" fill="#ffa0b7"/><rect x="124" width="4" height="4" fill="#ff98ae"/><rect x="128" width="4" height="4" fill="#ff92a5"/><rect x="132" width="4" height="4" fill="#ff8b9d"/><rect x="136" width="4" height="4" fill="#ff8595"/><rect x="140" width="4" height="4" fill="#ff7f8e"/><rect x="144" width="4" height="4" fill="#ff7a86"/><rect x="148" width="4" height="4" fill="#ff757f"/><rect x="152" width="4" height="4" fill="#ff6f78"/><rect x="156" width="4" height="4" fill="#ff6a72"/><rect x="160" width="4" height="4" fill="#ff666b"/><rect x="164" width="4" height="4" fill="#ff6164"/><rect x="168" width="4" height="4" fill="#ff5c5d"/><rect x="172" width="4" height="4" fill="#ff5857"/><rect x="176" width="4" height="4" fill="#ff5350"/><rect x="180" width="4" height="4" fill="#ff4e48"/><rect x="184" width="4" height="4" fill="#ff4a40"/><rect x="188" width="4" height="4" fill="#ff4538"/><rect x="192" width="4" height="4" fill="#ff402e"/><rect x="196" width="4" height="4" fill="#ff3b22"/><rect x="200" width="4" height="4" fill="#ff360a"/><rect x="204" width="4" height="4" fill="#ff3100"/><rect x="208" width="4" height="4" fill="#ff2b00"/><rect x="212" width="4" height="4" fill="#ff2400"/></g>
<g transform="translate(0 176)"><rect x="4" width="4" height="4" fill="#00ccff"/><rect x="8" width="4" height="4" fill="#00ccff"/><rect x="12" width="4" height="4" fill="#00ccff"/><rect x="16" width="4" height="4" fill="#00ccff"/><rect x="20" width="4" height="4" fill="#00ccff"/><rect x="24" width="4" height="4" fill="#00ccff"/><rect x="28" width="4" height="4" fill="#00ccff"/><rect x="32" width="4" height="4" fill="#00ccff"/><rect x="36" width="4" height="4" fill="#00ccff"/><rect x="40" width="4" height="4" fill="#00cdff"/><rect x="44" width="4" height="4" fill="#00cdff"/><rect x="48" width="4" height="4" fill="#00cdff"/><rect x="52" width="4" height="4" fill="#00cdff"/><rect x="56" width="4" height="4" fill="#00cdff"/><rect x="60" width="4" height="4" fill="#00cdff"/><rect x="64" width="4" height="4" fill="#34cdff"/><rect x="68" width="4" height="4" fill="#65cdff"/><rect x="72" width="4" height="4" fill="#84ceff"/><rect x="76" width="4" height="4" fill="#9eceff"/><rect x="80" width="4" height="4" fill="#b5ceff"/><rect x="84" width="4" height="4" fill="#caceff"/><rect x="88" width="4" height="4" fill="#dbceff"/><rect x="92" width="4" height="4" fill="#ebcfff"/><rect x="96" width="4" height="4" fill="#fbcfff"/><rect x="100" width="4" height="4" fill="#ffc6f4"/><rect x="104" width="4" height="4" fill="#ffbbe6"/><rect x="108" width="4" height="4" fill="#ffb1da"/><rect x="112" width="4" height="4" fill="#ffa8ce"/><rect x="116" width="4" height="4" fill="#ffa0c4"/><rect x="120" width="4" height="4" fill="#ff99ba"/><rect x="124" width="4" height="4" fill="#ff91b1"/><rect x="128" width="4" height="4" fill="#ff8ba9"/><rect x="132" width="4" height="4" fill="#ff84a1"/><rect x="136" width="4" height="4" fill="#ff7e99"/><rect x="140" width="4" height="4" fill="#ff7991"/><rect x="144" width="4" height="4" fill="#ff738a"/><rect x="148" width="4" height="4" fill="#ff6e83"/><rect x="152" width="4" height="4" fill="#ff687d"/><rect x="156" width="4" height="4" fill="#ff6376"/><rect x="160" width="4" height="4" fill="#ff5e6f"/><rect x="164" width="4" height="4" fill="#ff5969"/><rect x="168" width="4" height="4" fill="#ff5562"/><rect x="172" width="4" height="4" fill="#ff505c"/><rect x="176" width="4" height="4" fill="#ff4b55"/><rect x="180" width="4" height="4" fill="#ff464e"/><rect x="184" width="4" height="4" fill="#ff4147"/><rect x="188" width="4" height="4" fill="#ff3c3f"/><rect x="192" width="4" height="4" fill="#ff3737"/><rect x="196" width="4" height="4" fill="#ff312e"/><rect x="200" width="4" height="4" fill="#ff2a22"/><rect x="204" width="4" height="4" fill="#ff230b"/><rect x="208" width="4" height="4" fill="#ff1a00"/><rect x="212" width="4" height="4" fill="#ff0a00"/></g>
<g transform="translate(0 180)"><rect x="4" width="4" height="4" fill="#00c6ff"/><rect x="8" width="4" height="4" fill="#00c6ff"/><rect x="12" width="4" height="4" fill="#00c6ff"/><rect x="16" width="4" height="4" fill="#00c6ff"/><rect x="20" width="4" height="4" fill="#00c6ff"/><rect x="24" width="4" height="4" fill="#00c6ff"/><rect x="28" width="4" height="4" fill="#00c6ff"/><rect x="32" width="4" height="4" fill="#00c6ff"/><rect x="36" width="4" height="4" fill="#00c6ff"/><rect x="40" width="4" height="4" fill="#00c6ff"/><rect x="44" width="4" height="4" fill="#00c5ff"/><rect x="48" width="4" height="4" fill="#00c5ff"/><rect x="52" width="4" height="4" fill="#00c5ff"/><rect x="56" width="4" height="4" fill="#00c5ff"/><rect x="60" width="4" height="4" fill="#00c5ff"/><rect x="64" width="4" height="4" fill="#42c5ff"/><rect x="68" width="4" height="4" fill="#6bc5ff"/><rect x="72" width="4" height="4" fill="#88c5ff"/><rect x="76" width="4" height="4" fill="#a0c5ff"/><rect x="80" width="4" height="4" fill="#b6c5ff"/><rect x="84" width="4" height="4" fill="#c9c5ff"/><rect x="88" width="4" height="4" fill="#d9c4ff"/><rect x="92" width="4" height="4" fill="#e9c4ff"/><rect x="96" width="4" height="4" fill="#f8c4ff"/><rect x="100" width="4" height="4" fill="#ffbef7"/><rect x="104" width="4" height="4" fill="#ffb3e9"/><rect x="108" width="4" height="4" fill="#ffa9dd"/><rect x="112" width="4" height="4" fill="#ffa1d2"/><rect x="116" width="4" height="4" fill="#ff99c7"/><rect x="120" width="4" height="4" fill="#ff91be"/><rect x="124" width="4" height="4" fill="#ff8ab5"/><rect x="128" width="4" height="4" fill="#ff83ac"/><rect x="132" width="4" height="4" fill="#ff7da4"/><rect x="136" width="4" height="4" fill="#ff779c"/><rect x="140" width="4" height="4" fill="#ff7195"/><rect x="144" width="4" height="4" fill="#ff6c8e"/><rect x="148" width="4" height="4" fill="#ff6687"/><rect x="152" width="4" height="4" fill="#ff6180"/><rect x="156" width="4" height="4" fill="#ff5c7a"/><rect x="160" width="4" height="4" fill="#ff5774"/><rect x="164" width="4" height="4" fill="#ff516d"/><rect x="168" width="4" height="4" fill="#ff4c67"/><rect x="172" width="4" height="4" fill="#ff4761"/><rect x="176" width="4" height="4" fill="#ff425a"/><rect x="180" width="4" height="4" fill="#ff3d54"/><rect x="184" width="4" height="4" fill="#ff374d"/><rect x="188" width="4" height="4" fill="#ff3146"/><rect x="192" width="4" height="4" fill="#ff2a3f"/><rect x="196" width="4" height="4" fill="#ff2236"/><rect x="200" width="4" height="4" fill="#ff182d"/><rect x="204" width="4" height="4" fill="#ff0021"/><rect x="208" width="4" height="4" fill="#ff000c"/><rect x="212" width="4" height="4" fill="#ff0000"/></g>
<g transform="translate(0 184)"><rect x="4" width="4" height="4" fill="#00c0ff"/><rect x="8" width="4" height="4" fill="#00c0ff"/><rect x="12" width="4" height="4" fill="#00c0ff"/><rect x="16" width="4" height="4" fill="#00c0ff"/><rect x="20" width="4" height="4" fill="#00c0ff"/><rect x="24" width="4" height="4" fill="#00bfff"/><rect x="28" width="4" height="4" fill="#00bfff"/><rect x="32" width="4" height="4" fill="#00bfff"/><rect x="36" width="4" height="4" fill="#00bfff"/><rect x="40" width="4" height="4" fill="#00bfff"/><rect x="44" width="4" height="4" fill="#00beff"/><rect x="48" width="4" height="4" fill="#00beff"/><rect x="52" width="4" height="4" fill="#00beff"/><rect x="56" width="4" height="4" fill="#00bdff"/><rect x="60" width="4" height="4" fill="#00bdff"/><rect x="64" width="4" height="4" fill="#4cbdff"/><rect x="68" width="4" height="4" fill="#71bdff"/><rect x="72" width="4" height="4" fill="#8cbcff"/><rect x="76" width="4" height="4" fill="#a3bcff"/><rect x="80" width="4" height="4" fill="#b8bbff"/><rect x="84" width="4" height="4" fill="#c8bbff"/><rect x="88" width="4" height="4" fill="#d8bbff"/><rect x="92" width="4" height="4" fill="#e7baff"/><rect x="96" width="4" height="4" fill="#f6baff"/><rect x="100" width="4" height="4" fill="#ffb5f9"/><rect x="104" width="4" height="4" fill="#ffabec"/><rect x="108" width="4" height="4" fill="#ffa1e0"/><rect x="112" width="4" height="4" fill="#ff99d4"/><rect x="116" width="4" height="4" fill="#ff91ca"/><rect x="120" width="4" height="4" fill="#ff89c1"/><rect x="124" width="4" height="4" fill="#ff82b8"/><rect x="128" width="4" height="4" fill="#ff7caf"/><rect x="132" width="4" height="4" fill="#ff75a7"/><rect x="136" width="4" height="4" fill="#ff6fa0"/><rect x="140" width="4" height="4" fill="#ff6999"/><rect x="144" width="4" height="4" fill="#ff6492"/><rect x="148" width="4" height="4" fill="#ff5e8b"/><rect x="152" width="4" height="4" fill="#ff5984"/><rect x="156" width="4" height="4" fill="#ff537e"/><rect x="160" width="4" height="4" fill="#ff4e78"/><rect x="164" width="4" height="4" fill="#ff4871"/><rect x="168" width="4" height="4" fill="#ff436b"/><rect x="172" width="4" height="4" fill="#ff3d65"/><rect x="176" width="4" height="4" fill="#ff375f"/><rect x="180" width="4" height="4" fill="#ff3159"/><rect x="184" width="4" height="4" fill="#ff2a52"/><rect x="188" width="4" height="4" fill="#ff214c"/><rect x="192" width="4" height="4" fill="#ff1645"/><rect x="196" width="4" height="4" fill="#ff003e"/><rect x="200" width="4" height="4" fill="#ff0036"/><rect x="204" width="4" height="4" fill="#ff002d"/><rect x="208" width="4" height="4" fill="#ff0021"/><rect x="212" width="4" height="4" fill="#ff000d"/></g>
<g transform="translate(0 188)"><rect x="8" width="4" height="4" fill="#00baff"/><rect x="12" width="4" height="4" fill="#00baff"/><rect x="16" width="4" height="4" fill="#00baff"/><rect x="20" width="4" height="4" fill="#00b9ff"/><rect x="24" width="4" height="4" fill="#00b9ff"/><rect x="28" width="4" height="4" fill="#00b9ff"/><rect x="32" width="4" height="4" fill="#00b8ff"/><rect x="36" width="4" height="4" fill="#00b8ff"/><rect x="40" width="4" height="4" fill="#00b8ff"/><rect x="44" width="4" height="4" fill="#00b7ff"/><rect x="48" width="4" height="4" fill="#00b7ff"/><rect x="52" width="4" height="4" fill="#00b6ff"/><rect x="56" width="4" height="4" fill="#00b6ff"/><rect x="60" width="4" height="4" fill="#04b5ff"/><rect x="64" width="4" height="4" fill="#55b5ff"/><rect x="68" width="4" height="4" fill="#76b4ff"/><rect x="72" width="4" height="4" fill="#8fb4ff"/><rect x="76" width="4" height="4" fill="#a5b3ff"/><rect x="80" width="4" height="4" fill="#b8b2ff"/><rect x="84" width="4" height="4" fill="#c7b2ff"/><rect x="88" width="4" height="4" fill="#d6b1ff"/><rect x="92" width="4" height="4" fill="#e5b0ff"/><rect x="96" width="4" height="4" fill="#f4afff"/><rect x="100" width="4" height="4" fill="#ffacfc"/><rect x="104" width="4" height="4" fill="#ffa2ee"/><rect x="108" width="4" height="4" fill="#ff99e2"/><rect x="112" width="4" height="4" fill="#ff90d7"/><rect x="116" width="4" height="4" fill="#ff88cd"/><rect x="120" width="4" height="4" fill="#ff81c4"/><rect x="124" width="4" height="4" fill="#ff7abb"/><rect x="128" width="4" height="4" fill="#ff73b2"/><rect x="132" width="4" height="4" fill="#ff6dab"/><rect x="136" width="4" height="4" fill="#ff67a3"/><rect x="140" width="4" height="4" fill="#ff619c"/><rect x="144" width="4" height="4" fill="#ff5b95"/><rect x="148" width="4" height="4" fill="#ff558e"/><rect x="152" width="4" height="4" fill="#ff5088"/><rect x="156" width="4" height="4" fill="#ff4a82"/><rect x="160" width="4" height="4" fill="#ff447b"/><rect x="164" width="4" height="4" fill="#ff3e75"/><rect x="168" width="4" height="4" fill="#ff386f"/><rect x="172" width="4" height="4" fill="#ff3169"/><rect x="176" width="4" height="4" fill="#ff2963"/><rect x="180" width="4" height="4" fill="#ff205e"/><rect x="184" width="4" height="4" fill="#ff1357"/><rect x="188" width="4" height="4" fill="#ff0051"/><rect x="192" width="4" height="4" fill="#ff004b"/><rect x="196" width="4" height="4" fill="#ff0044"/><rect x="200" width="4" height="4" fill="#ff003d"/><rect x="204" width="4" height="4" fill="#ff0035"/><rect x="208" width="4" height="4" fill="#ff002c"/><rect x="212" width="4" height="4" fill="#ff0021"/></g>
<g transform="translate(0 192)"><rect x="8" width="4" height="4" fill="#00b4ff"/><rect x="12" width="4" height="4" fill="#00b4ff"/><rect x="16" width="4" height="4" fill="#00b3ff"/><rect x="20" width="4" height="4" fill="#00b3ff"/><rect x="24" width="4" height="4" fill="#00b3ff"/><rect x="28" width="4" height="4" fill="#00b2ff"/><rect x="32" width="4" height="4" fill="#00b2ff"/><rect x="36" width="4" height="4" fill="#00b1ff"/><rect x="40" width="4" height="4" fill="#00b1ff"/><rect x="44" width="4" height="4" fill="#00b0ff"/><rect x="48" width="4" height="4" fill="#00afff"/><rect x="52" width="4" height="4" fill="#00afff"/><rect x="56" width="4" height="4" fill="#00aeff"/><rect x="60" width="4" height="4" fill="#2badff"/><rect x="64" width="4" height="4" fill="#5cadff"/><rect x="68" width="4" height="4" fill="#7aacff"/><rect x="72" width="4" height="4" fill="#92abff"/><rect x="76" width="4" height="4" fill="#a7aaff"/><rect x="80" width="4" height="4" fill="#b7a9ff"/><rect x="84" width="4" height="4" fill="#c7a8ff"/><rect x="88" width="4" height="4" fill="#d5a7ff"/><rect x="92" width="4" height="4" fill="#e4a6ff"/><rect x="96" width="4" height="4" fill="#f2a5ff"/><rect x="100" width="4" height="4" fill="#ffa3fe"/><rect x="104" width="4" height="4" fill="#ff99f1"/><rect x="108" width="4" height="4" fill="#ff90e5"/><rect x="112" width="4" height="4" fill="#ff88da"/><rect x="116" width="4" height="4" fill="#ff80d0"/><rect x="120" width="4" height="4" fill="#ff78c7"/><rect x="124" width="4" height="4" fill="#ff71be"/><rect x="128" width="4" height="4" fill="#ff6bb5"/><rect x="132" width="4" height="4" fill="#ff64ae"/><rect x="136" width="4" height="4" fill="#ff5ea6"/><rect x="140" width="4" height="4" fill="#ff589f"/><rect x="144" width="4" height="4" fill="#ff5298"/><rect x="148" width="4" height="4" fill="#ff4b92"/><rect x="152" width="4" height="4" fill="#ff458b"/><rect x="156" width="4" height="4" fill="#ff3f85"/><rect x="160" width="4" height="4" fill="#ff387f"/><rect x="164" width="4" height="4" fill="#ff3179"/><rect x="168" width="4" height="4" fill="#ff2973"/><rect x="172" width="4" height="4" fill="#ff1f6d"/><rect x="176" width="4" height="4" fill="#ff0f68"/><rect x="180" width="4" height="4" fill="#ff0062"/><rect x="184" width="4" height="4" fill="#ff005c"/><rect x="188" width="4" height="4" fill="#ff0056"/><rect x="192" width="4" height="4" fill="#ff0050"/><rect x="196" width="4" height="4" fill="#ff004a"/><rect x="200" width="4" height="4" fill="#ff0043"/><rect x="204" width="4" height="4" fill="#ff003c"/></g>
<g transform="translate(0 196)"><rect x="8" width="4" height="4" fill="#00aeff"/><rect x="12" width="4" height="4" fill="#00aeff"/><rect x="16" width="4" height="4" fill="#00adff"/><rect x="20" width="4" height="4" fill="#00adff"/><rect x="24" width="4" height="4" fill="#00acff"/><rect x="28" width="4" height="4" fill="#00acff"/><rect x="32" width="4" height="4" fill="#00abff"/><rect x="36" width="4" height="4" fill="#00aaff"/><rect x="40" width="4" height="4" fill="#00aaff"/><rect x="44" width="4" height="4" fill="#00a9ff"/><rect x="48" width="4" height="4" fill="#00a8ff"/><rect x="52" width="4" height="4" fill="#00a7ff"/><rect x="56" width="4" height="4" fill="#00a6ff"/><rect x="60" width="4" height="4" fill="#3aa5ff"/><rect x="64" width="4" height="4" fill="#62a4ff"/><rect x="68" width="4" height="4" fill="#7ea3ff"/><rect x="72" width="4" height="4" fill="#95a2ff"/><rect x="76" width="4" height="4" fill="#a8a1ff"/><rect x="80" width="4" height="4" fill="#b7a0ff"/><rect x="84" width="4" height="4" fill="#c69eff"/><rect x="88" width="4" height="4" fill="#d49dff"/><rect x="92" width="4" height="4" fill="#e29cff"/><rect x="96" width="4" height="4" fill="#f09aff"/><rect x="100" width="4" height="4" fill="#fd98ff"/><rect x="104" width="4" height="4" fill="#ff8ff3"/><rect x="108" width="4" height="4" fill="#ff87e8"/><rect x="112" width="4" height="4" fill="#ff7edd"/><rect x="116" width="4" height="4" fill="#ff76d3"/><rect x="120" width="4" height="4" fill="#ff6fc9"/><rect x="124" width="4" height="4" fill="#ff68c1"/><rect x="128" width="4" height="4" fill="#ff61b8"/><rect x="132" width="4" height="4" fill="#ff5ab1"/><rect x="136" width="4" height="4" fill="#ff54a9"/><rect x="140" width="4" height="4" fill="#ff4da2"/><rect x="144" width="4" height="4" fill="#ff479b"/><rect x="148" width="4" height="4" fill="#ff4095"/><rect x="152" width="4" height="4" fill="#ff398f"/><rect x="156" width="4" height="4" fill="#ff3188"/><rect x="160" width="4" height="4" fill="#ff2882"/><rect x="164" width="4" height="4" fill="#ff1d7d"/><rect x="168" width="4" height="4" fill="#ff0877"/><rect x="172" width="4" height="4" fill="#ff0071"/><rect x="176" width="4" height="4" fill="#ff006c"/><rect x="180" width="4" height="4" fill="#ff0066"/><rect x="184" width="4" height="4" fill="#ff0060"/><rect x="188" width="4" height="4" fill="#ff005b"/><rect x="192" width="4" height="4" fill="#ff0055"/><rect x="196" width="4" height="4" fill="#ff004f"/></g>
<g transform="translate(0 200)"><rect x="8" width="4" height="4" fill="#00a9ff"/><rect x="12" width="4" height="4" fill="#00a8ff"/><rect x="16" width="4" height="4" fill="#00a7ff"/><rect x="20" width="4" height="4" fill="#00a7ff"/><rect x="24" width="4" height="4" fill="#00a6ff"/><rect x="28" width="4" height="4" fill="#00a5ff"/><rect x="32" width="4" height="4" fill="#00a4ff"/><rect x="36" width="4" height="4" fill="#00a3ff"/><rect x="40" width="4" height="4" fill="#00a2ff"/><rect x="44" width="4" height="4" fill="#00a2ff"/><rect x="48" width="4" height="4" fill="#00a1ff"/><rect x="52" width="4" height="4" fill="#00a0ff"/><rect x="56" width="4" height="4" fill="#009eff"/><rect x="60" width="4" height="4" fill="#449dff"/><rect x="64" width="4" height="4" fill="#689cff"/><rect x="68" width="4" height="4" fill="#829bff"/><rect x="72" width="4" height="4" fill="#9799ff"/><rect x="76" width="4" height="4" fill="#a898ff"/><rect x="80" width="4" height="4" fill="#b796ff"/><rect x="84" width="4" height="4" fill="#c595ff"/><rect x="88" width="4" height="4" fill="#d393ff"/><rect x="92" width="4" height="4" fill="#e091ff"/><rect x="96" width="4" height="4" fill="#ee8fff"/><rect x="100" width="4" height="4" fill="#fb8dff"/><rect x="104" width="4" height="4" fill="#ff85f6"/><rect x="108" width="4" height="4" fill="#ff7dea"/><rect x="112" width="4" height="4" fill="#ff74df"/><rect x="116" width="4" height="4" fill="#ff6cd5"/><rect x="120" width="4" height="4" fill="#ff65cc"/><rect x="124" width="4" height="4" fill="#ff5ec3"/><rect x="128" width="4" height="4" fill="#ff56bb"/><rect x="132" width="4" height="4" fill="#ff4fb3"/><rect x="136" width="4" height="4" fill="#ff48ac"/><rect x="140" width="4" height="4" fill="#ff41a5"/><rect x="144" width="4" height="4" fill="#ff399e"/><rect x="148" width="4" height="4" fill="#ff3198"/><rect x="152" width="4" height="4" fill="#ff2892"/><rect x="156" width="4" height="4" fill="#ff1b8c"/><rect x="160" width="4" height="4" fill="#ff0086"/><rect x="164" width="4" height="4" fill="#ff0080"/><rect x="168" width="4" height="4" fill="#ff007a"/><rect x="172" width="4" height="4" fill="#ff0075"/><rect x="176" width="4" height="4" fill="#ff006f"/><rect x="180" width="4" height="4" fill="#ff006a"/><rect x="184" width="4" height="4" fill="#ff0064"/><rect x="188" width="4" height="4" fill="#ff005f"/></g>
<g transform="translate(0 204)"><rect x="12" width="4" height="4" fill="#00a2ff"/><rect x="16" width="4" height="4" fill="#00a1ff"/><rect x="20" width="4" height="4" fill="#00a0ff"/><rect x="24" width="4" height="4" fill="#009fff"/><rect x="28" width="4" height="4" fill="#009eff"/><rect x="32" width="4" height="4" fill="#009dff"/><rect x="36" width="4" height="4" fill="#009cff"/><rect x="40" width="4" height="4" fill="#009bff"/><rect x="44" width="4" height="4" fill="#009aff"/><rect x="48" width="4" height="4" fill="#0099ff"/><rect x="52" width="4" height="4" fill="#0098ff"/><rect x="56" width="4" height="4" fill="#0097ff"/><rect x="60" width="4" height="4" fill="#4d95ff"/><rect x="64" width="4" height="4" fill="#6d94ff"/><rect x="68" width="4" height="4" fill="#8592ff"/><rect x="72" width="4" height="4" fill="#9890ff"/><rect x="76" width="4" height="4" fill="#a88fff"/><rect x="80" width="4" height="4" fill="#b68dff"/><rect x="84" width="4" height="4" fill="#c48bff"/><rect x="88" width="4" height="4" fill="#d289ff"/><rect x="92" width="4" height="4" fill="#df86ff"/><rect x="96" width="4" height="4" fill="#ec84ff"/><rect x="100" width="4" height="4" fill="#f981ff"/><rect x="104" width="4" height="4" fill="#ff7bf8"/><rect x="108" width="4" height="4" fill="#ff72ec"/><rect x="112" width="4" height="4" fill="#ff69e2"/><rect x="116" width="4" height="4" fill="#ff61d8"/><rect x="120" width="4" height="4" fill="#ff59cf"/><rect x="124" width="4" height="4" fill="#ff52c6"/><rect x="128" width="4" height="4" fill="#ff4abe"/><rect x="132" width="4" height="4" fill="#ff42b6"/><rect x="136" width="4" height="4" fill="#ff3aaf"/><rect x="140" width="4" height="4" fill="#ff31a8"/><rect x="144" width="4" height="4" fill="#ff27a1"/><rect x="148" width="4" height="4" fill="#ff199b"/><rect x="152" width="4" height="4" fill="#ff0095"/><rect x="156" width="4" height="4" fill="#ff008f"/><rect x="160" width="4" height="4" fill="#ff0089"/><rect x="164" width="4" height="4" fill="#ff0083"/><rect x="168" width="4" height="4" fill="#ff007e"/><rect x="172" width="4" height="4" fill="#ff0078"/><rect x="176" width="4" height="4" fill="#ff0073"/><rect x="180" width="4" height="4" fill="#ff006e"/></g>
<g transform="translate(0 208)"><rect x="12" width="4" height="4" fill="#009cff"/><rect x="16" width="4" height="4" fill="#009bff"/><rect x="20" width="4" height="4" fill="#009aff"/><rect x="24" width="4" height="4" fill="#0099ff"/><rect x="28" width="4" height="4" fill="#0098ff"/><rect x="32" width="4" height="4" fill="#0097ff"/><rect x="36" width="4" height="4" fill="#0095ff"/><rect x="40" width="4" height="4" fill="#0094ff"/><rect x="44" width="4" height="4" fill="#0093ff"/><rect x="48" width="4" height="4" fill="#0091ff"/><rect x="52" width="4" height="4" fill="#0090ff"/><rect x="56" width="4" height="4" fill="#218eff"/><rect x="60" width="4" height="4" fill="#548dff"/><rect x="64" width="4" height="4" fill="#718bff"/><rect x="68" width="4" height="4" fill="#8889ff"/><rect x="72" width="4" height="4" fill="#9987ff"/><rect x="76" width="4" height="4" fill="#a885ff"/><rect x="80" width="4" height="4" fill="#b683ff"/><rect x="84" width="4" height="4" fill="#c480ff"/><rect x="88" width="4" height="4" fill="#d17eff"/><rect x="92" width="4" height="4" fill="#de7bff"/><rect x="96" width="4" height="4" fill="#ea78ff"/><rect x="100" width="4" height="4" fill="#f775ff"/><rect x="104" width="4" height="4" fill="#ff6ffa"/><rect x="108" width="4" height="4" fill="#ff66ef"/><rect x="112" width="4" height="4" fill="#ff5de4"/><rect x="116" width="4" height="4" fill="#ff55da"/><rect x="120" width="4" height="4" fill="#ff4cd1"/><rect x="124" width="4" height="4" fill="#ff44c8"/><rect x="128" width="4" height="4" fill="#ff3bc0"/><rect x="132" width="4" height="4" fill="#ff31b9"/><rect x="136" width="4" height="4" fill="#ff26b2"/><rect x="140" width="4" height="4" fill="#ff15ab"/><rect x="144" width="4" height="4" fill="#ff00a4"/><rect x="148" width="4" height="4" fill="#ff009e"/><rect x="152" width="4" height="4" fill="#ff0098"/><rect x="156" width="4" height="4" fill="#ff0092"/><rect x="160" width="4" height="4" fill="#ff008c"/><rect x="164" width="4" height="4" fill="#ff0086"/><rect x="168" width="4" height="4" fill="#ff0081"/></g>
<g transform="translate(0 212)"><rect x="12" width="4" height="4" fill="#0096ff"/><rect x="16" width="4" height="4" fill="#0095ff"/><rect x="20" width="4" height="4" fill="#0093ff"/><rect x="24" width="4" height="4" fill="#0092ff"/><rect x="28" width="4" height="4" fill="#0091ff"/><rect x="32" width="4" height="4" fill="#0090ff"/><rect x="36" width="4" height="4" fill="#008eff"/><rect x="40" width="4" height="4" fill="#008dff"/><rect x="44" width="4" height="4" fill="#008bff"/><rect x="48" width="4" height="4" fill="#008aff"/><rect x="52" width="4" height="4" fill="#0088ff"/><rect x="56" width="4" height="4" fill="#3286ff"/><rect x="60" width="4" height="4" fill="#5b84ff"/><rect x="64" width="4" height="4" fill="#7582ff"/><rect x="68" width="4" height="4" fill="#8980ff"/><rect x="72" width="4" height="4" fill="#997eff"/><rect x="76" width="4" height="4" fill="#a87bff"/><rect x="80" width="4" height="4" fill="#b679ff"/><rect x="84" width="4" height="4" fill="#c376ff"/><rect x="88" width="4" height="4" fill="#d072ff"/><rect x="92" width="4" height="4" fill="#dc6fff"/><rect x="96" width="4" height="4" fill="#e96bff"/><rect x="100" width="4" height="4" fill="#f567ff"/><rect x="104" width="4" height="4" fill="#ff62fc"/><rect x="108" width="4" height="4" fill="#ff58f1"/><rect x="112" width="4" height="4" fill="#ff4fe6"/><rect x="116" width="4" height="4" fill="#ff46dd"/><rect x="120" width="4" height="4" fill="#ff3cd3"/><rect x="124" width="4" height="4" fill="#ff31cb"/><rect x="128" width="4" height="4" fill="#ff24c3"/><rect x="132" width="4" height="4" fill="#ff10bb"/><rect x="136" width="4" height="4" fill="#ff00b4"/><rect x="140" width="4" height="4" fill="#ff00ad"/><rect x="144" width="4" height="4" fill="#ff00a7"/><rect x="148" width="4" height="4" fill="#ff00a1"/><rect x="152" width="4" height="4" fill="#ff009b"/><rect x="156" width="4" height="4" fill="#ff0095"/><rect x="160" width="4" height="4" fill="#ff008f"/></g>
<g transform="translate(0 216)"><rect x="12" width="4" height="4" fill="#008fff"/><rect x="16" width="4" height="4" fill="#008eff"/><rect x="20" width="4" height="4" fill="#008dff"/><rect x="24" width="4" height="4" fill="#008bff"/><rect x="28" width="4" height="4" fill="#008aff"/><rect x="32" width="4" height="4" fill="#0089ff"/><rect x="36" width="4" height="4" fill="#0087ff"/><rect x="40" width="4" height="4" fill="#0085ff"/><rect x="44" width="4" height="4" fill="#0084ff"/><rect x="48" width="4" height="4" fill="#0082ff"/><rect x="52" width="4" height="4" fill="#0080ff"/><rect x="56" width="4" height="4" fill="#3d7eff"/><rect x="60" width="4" height="4" fill="#607bff"/><rect x="64" width="4" height="4" fill="#7979ff"/><rect x="68" width="4" height="4" fill="#8a77ff"/><rect x="72" width="4" height="4" fill="#9974ff"/><rect x="76" width="4" height="4" fill="#a871ff"/><rect x="80" width="4" height="4" fill="#b56eff"/><rect x="84" width="4" height="4" fill="#c26aff"/><rect x="88" width="4" height="4" fill="#cf66ff"/><rect x="92" width="4" height="4" fill="#db62ff"/><rect x="96" width="4" height="4" fill="#e75dff"/><rect x="100" width="4" height="4" fill="#f358ff"/><rect x="104" width="4" height="4" fill="#ff52fe"/><rect x="108" width="4" height="4" fill="#ff48f3"/><rect x="112" width="4" height="4" fill="#ff3de9"/><rect x="116" width="4" height="4" fill="#ff31df"/><rect x="120" width="4" height="4" fill="#ff23d6"/><rect x="124" width="4" height="4" fill="#ff00cd"/><rect x="128" width="4" height="4" fill="#ff00c5"/><rect x="132" width="4" height="4" fill="#ff00be"/><rect x="136" width="4" height="4" fill="#ff00b7"/><rect x="140" width="4" height="4" fill="#ff00b0"/><rect x="144" width="4" height="4" fill="#ff00aa"/><rect x="148" width="4" height="4" fill="#ff00a3"/><rect x="152" width="4" height="4" fill="#ff009d"/></g>
<g transform="translate(0 220)"><rect x="16" width="4" height="4" fill="#0088ff"/><rect x="20" width="4" height="4" fill="#0086ff"/><rect x="24" width="4" height="4" fill="#0085ff"/><rect x="28" width="4" height="4" fill="#0083ff"/><rect x="32" width="4" height="4" fill="#0081ff"/><rect x="36" width="4" height="4" fill="#007fff"/><rect x="40" width="4" height="4" fill="#007eff"/><rect x="44" width="4" height="4" fill="#007cff"/><rect x="48" width="4" height="4" fill="#0079ff"/><rect x="52" width="4" height="4" fill="#0077ff"/><rect x="56" width="4" height="4" fill="#4675ff"/><rect x="60" width="4" height="4" fill="#6572ff"/><rect x="64" width="4" height="4" fill="#7a6fff"/><rect x="68" width="4" height="4" fill="#8b6cff"/><rect x="72" width="4" height="4" fill="#9a69ff"/><rect x="76" width="4" height="4" fill="#a866ff"/><rect x="80" width="4" height="4" fill="#b562ff"/><rect x="84" width="4" height="4" fill="#c25eff"/><rect x="88" width="4" height="4" fill="#ce59ff"/><rect x="92" width="4" height="4" fill="#da54ff"/><rect x="96" width="4" height="4" fill="#e64eff"/><rect x="100" width="4" height="4" fill="#f247ff"/><rect x="104" width="4" height="4" fill="#fe3eff"/><rect x="108" width="4" height="4" fill="#ff31f5"/><rect x="112" width="4" height="4" fill="#ff21eb"/><rect x="116" width="4" height="4" fill="#ff00e1"/><rect x="120" width="4" height="4" fill="#ff00d8"/><rect x="124" width="4" height="4" fill="#ff00d0"/><rect x="128" width="4" height="4" fill="#ff00c8"/><rect x="132" width="4" height="4" fill="#ff00c0"/><rect x="136" width="4" height="4" fill="#ff00b9"/><rect x="140" width="4" height="4" fill="#ff00b3"/><rect x="144" width="4" height="4" fill="#ff00ac"/></g>
<g transform="translate(0 224)"><rect x="16" width="4" height="4" fill="#0081ff"/><rect x="20" width="4" height="4" fill="#007fff"/><rect x="24" width="4" height="4" fill="#007eff"/><rect x="28" width="4" height="4" fill="#007cff"/><rect x="32" width="4" height="4" fill="#007aff"/><rect x="36" width="4" height="4" fill="#0078ff"/><rect x="40" width="4" height="4" fill="#0076ff"/><rect x="44" width="4" height="4" fill="#0073ff"/><rect x="48" width="4" height="4" fill="#0071ff"/><rect x="52" width="4" height="4" fill="#176eff"/><rect x="56" width="4" height="4" fill="#4e6bff"/><rect x="60" width="4" height="4" fill="#6a68ff"/><rect x="64" width="4" height="4" fill="#7c65ff"/><rect x="68" width="4" height="4" fill="#8b62ff"/><rect x="72" width="4" height="4" fill="#9a5eff"/><rect x="76" width="4" height="4" fill="#a85aff"/><rect x="80" width="4" height="4" fill="#b555ff"/><rect x="84" width="4" height="4" fill="#c150ff"/><rect x="88" width="4" height="4" fill="#cd49ff"/><rect x="92" width="4" height="4" fill="#d942ff"/><rect x="96" width="4" height="4" fill="#e53aff"/><rect x="100" width="4" height="4" fill="#f02fff"/><rect x="104" width="4" height="4" fill="#fc1eff"/><rect x="108" width="4" height="4" fill="#ff00f7"/><rect x="112" width="4" height="4" fill="#ff00ed"/><rect x="116" width="4" height="4" fill="#ff00e3"/><rect x="120" width="4" height="4" fill="#ff00da"/><rect x="124" width="4" height="4" fill="#ff00d2"/><rect x="128" width="4" height="4" fill="#ff00ca"/><rect x="132" width="4" height="4" fill="#ff00c3"/><rect x="136" width="4" height="4" fill="#ff00bc"/></g>
<g transform="translate(0 228)"><rect x="20" width="4" height="4" fill="#0078ff"/><rect x="24" width="4" height="4" fill="#0076ff"/><rect x="28" width="4" height="4" fill="#0074ff"/><rect x="32" width="4" height="4" fill="#0072ff"/><rect x="36" width="4" height="4" fill="#0070ff"/><rect x="40" width="4" height="4" fill="#006dff"/><rect x="44" width="4" height="4" fill="#006bff"/><rect x="48" width="4" height="4" fill="#0068ff"/><rect x="52" width="4" height="4" fill="#2b65ff"/><rect x="56" width="4" height="4" fill="#5461ff"/><rect x="60" width="4" height="4" fill="#6b5eff"/><rect x="64" width="4" height="4" fill="#7d5aff"/><rect x="68" width="4" height="4" fill="#8c56ff"/><rect x="72" width="4" height="4" fill="#9a51ff"/><rect x="76" width="4" height="4" fill="#a84cff"/><rect x="80" width="4" height="4" fill="#b446ff"/><rect x="84" width="4" height="4" fill="#c03eff"/><rect x="88" width="4" height="4" fill="#cc36ff"/><rect x="92" width="4" height="4" fill="#d82aff"/><rect x="96" width="4" height="4" fill="#e317ff"/><rect x="100" width="4" height="4" fill="#ef00ff"/><rect x="104" width="4" height="4" fill="#fa00ff"/><rect x="108" width="4" height="4" fill="#ff00f9"/><rect x="112" width="4" height="4" fill="#ff00ef"/><rect x="116" width="4" height="4" fill="#ff00e5"/><rect x="120" width="4" height="4" fill="#ff00dc"/><rect x="124" width="4" height="4" fill="#ff00d4"/><rect x="128" width="4" height="4" fill="#ff00cc"/></g>
<g transform="translate(0 232)"><rect x="20" width="4" height="4" fill="#0071ff"/><rect x="24" width="4" height="4" fill="#006fff"/><rect x="28" width="4" height="4" fill="#006cff"/><rect x="32" width="4" height="4" fill="#006aff"/><rect x="36" width="4" height="4" fill="#0067ff"/><rect x="40" width="4" height="4" fill="#0064ff"/><rect x="44" width="4" height="4" fill="#0061ff"/><rect x="48" width="4" height="4" fill="#005eff"/><rect x="52" width="4" height="4" fill="#375aff"/><rect x="56" width="4" height="4" fill="#5957ff"/><rect x="60" width="4" height="4" fill="#6d52ff"/><rect x="64" width="4" height="4" fill="#7e4eff"/><rect x="68" width="4" height="4" fill="#8d48ff"/><rect x="72" width="4" height="4" fill="#9b42ff"/><rect x="76" width="4" height="4" fill="#a83bff"/><rect x="80" width="4" height="4" fill="#b432ff"/><rect x="84" width="4" height="4" fill="#c026ff"/><rect x="88" width="4" height="4" fill="#cc0eff"/><rect x="92" width="4" height="4" fill="#d700ff"/><rect x="96" width="4" height="4" fill="#e200ff"/><rect x="100" width="4" height="4" fill="#ed00ff"/><rect x="104" width="4" height="4" fill="#f800ff"/><rect x="108" width="4" height="4" fill="#ff00fb"/><rect x="112" width="4" height="4" fill="#ff00f1"/><rect x="116" width="4" height="4" fill="#ff00e7"/></g>
<g transform="translate(0 236)"><rect x="20" width="4" height="4" fill="#0069ff"/><rect x="24" width="4" height="4" fill="#0067ff"/><rect x="28" width="4" height="4" fill="#0064ff"/><rect x="32" width="4" height="4" fill="#0061ff"/><rect x="36" width="4" height="4" fill="#005eff"/><rect x="40" width="4" height="4" fill="#005bff"/><rect x="44" width="4" height="4" fill="#0057ff"/><rect x="48" width="4" height="4" fill="#0053ff"/><rect x="52" width="4" height="4" fill="#404fff"/><rect x="56" width="4" height="4" fill="#5c4aff"/><rect x="60" width="4" height="4" fill="#6f45ff"/><rect x="64" width="4" height="4" fill="#7f3fff"/><rect x="68" width="4" height="4" fill="#8d37ff"/><rect x="72" width="4" height="4" fill="#9b2eff"/><rect x="76" width="4" height="4" fill="#a821ff"/><rect x="80" width="4" height="4" fill="#b400ff"/><rect x="84" width="4" height="4" fill="#bf00ff"/><rect x="88" width="4" height="4" fill="#cb00ff"/><rect x="92" width="4" height="4" fill="#d600ff"/><rect x="96" width="4" height="4" fill="#e100ff"/><rect x="100" width="4" height="4" fill="#ec00ff"/><rect x="104" width="4" height="4" fill="#f600ff"/><rect x="108" width="4" height="4" fill="#ff00fd"/></g>
<g transform="translate(0 240)"><rect x="24" width="4" height="4" fill="#005eff"/><rect x="28" width="4" height="4" fill="#005bff"/><rect x="32" width="4" height="4" fill="#0058ff"/><rect x="36" width="4" height="4" fill="#0054ff"/><rect x="40" width="4" height="4" fill="#0050ff"/><rect x="44" width="4" height="4" fill="#004cff"/><rect x="48" width="4" height="4" fill="#0047ff"/><rect x="52" width="4" height="4" fill="#4742ff"/><rect x="56" width="4" height="4" fill="#5e3bff"/><rect x="60" width="4" height="4" fill="#7034ff"/><rect x="64" width="4" height="4" fill="#802aff"/><rect x="68" width="4" height="4" fill="#8e1dff"/><rect x="72" width="4" height="4" fill="#9b00ff"/><rect x="76" width="4" height="4" fill="#a800ff"/><rect x="80" width="4" height="4" fill="#b300ff"/><rect x="84" width="4" height="4" fill="#bf00ff"/><rect x="88" width="4" height="4" fill="#ca00ff"/><rect x="92" width="4" height="4" fill="#d500ff"/><rect x="96" width="4" height="4" fill="#e000ff"/><rect x="100" width="4" height="4" fill="#ea00ff"/></g>
<g transform="translate(0 244)"><rect x="24" width="4" height="4" fill="#0055ff"/><rect x="28" width="4" height="4" fill="#0051ff"/><rect x="32" width="4" height="4" fill="#004dff"/><rect x="36" width="4" height="4" fill="#0049ff"/><rect x="40" width="4" height="4" fill="#0044ff"/><rect x="44" width="4" height="4" fill="#003fff"/><rect x="48" width="4" height="4" fill="#2438ff"/><rect x="52" width="4" height="4" fill="#4a31ff"/><rect x="56" width="4" height="4" fill="#6027ff"/><rect x="60" width="4" height="4" fill="#7118ff"/><rect x="64" width="4" height="4" fill="#8100ff"/><rect x="68" width="4" height="4" fill="#8f00ff"/><rect x="72" width="4" height="4" fill="#9b00ff"/><rect x="76" width="4" height="4" fill="#a800ff"/><rect x="80" width="4" height="4" fill="#b300ff"/><rect x="84" width="4" height="4" fill="#be00ff"/><rect x="88" width="4" height="4" fill="#c900ff"/><rect x="92" width="4" height="4" fill="#d400ff"/></g>
<g transform="translate(0 248)"><rect x="28" width="4" height="4" fill="#0046ff"/><rect x="32" width="4" height="4" fill="#0042ff"/><rect x="36" width="4" height="4" fill="#003cff"/><rect x="40" width="4" height="4" fill="#0036ff"/><rect x="44" width="4" height="4" fill="#002eff"/><rect x="48" width="4" height="4" fill="#2f23ff"/><rect x="52" width="4" height="4" fill="#4d12ff"/><rect x="56" width="4" height="4" fill="#6200ff"/><rect x="60" width="4" height="4" fill="#7300ff"/><rect x="64" width="4" height="4" fill="#8200ff"/><rect x="68" width="4" height="4" fill="#8f00ff"/><rect x="72" width="4" height="4" fill="#9c00ff"/><rect x="76" width="4" height="4" fill="#a800ff"/><rect x="80" width="4" height="4" fill="#b300ff"/><rect x="84" width="4" height="4" fill="#be00ff"/></g>
<g transform="translate(0 252)"><rect x="28" width="4" height="4" fill="#0039ff"/><rect x="32" width="4" height="4" fill="#0033ff"/><rect x="36" width="4" height="4" fill="#002bff"/><rect x="40" width="4" height="4" fill="#0020ff"/><rect x="44" width="4" height="4" fill="#0008ff"/><rect x="48" width="4" height="4" fill="#3400ff"/><rect x="52" width="4" height="4" fill="#5000ff"/><rect x="56" width="4" height="4" fill="#6300ff"/><rect x="60" width="4" height="4" fill="#7400ff"/><rect x="64" width="4" height="4" fill="#8200ff"/><rect x="68" width="4" height="4" fill="#9000ff"/><rect x="72" width="4" height="4" fill="#9c00ff"/><rect x="76" width="4" height="4" fill="#a800ff"/></g>
      </g>
    </g>
    <path d="M49.1 254.6C49.1 254.6 49.0 254.6 49.0 254.6C48.9 254.6 48.8 254.6 48.8 254.5C48.7 254.5 48.6 254.4 48.4 254.3C48.3 254.3 48.2 254.2 48.0 254.0C47.9 253.9 47.7 253.7 47.5 253.5C47.3 253.4 47.0 253.1 46.8 252.9C46.5 252.6 46.2 252.4 45.8 252.1C45.5 251.7 45.0 251.4 44.5 251.0C44.1 250.5 43.5 250.1 43.0 249.5C42.4 249.0 41.7 248.4 41.0 247.5C40.2 246.7 39.5 246.0 38.5 244.6C37.6 243.3 36.5 241.8 35.3 239.6C34.1 237.3 32.7 234.9 31.2 231.3C29.6 227.8 27.9 223.7 26.0 218.3C24.0 212.9 21.7 206.6 19.5 198.9C17.4 191.2 15.1 182.1 12.9 172.1C10.8 162.0 8.4 150.1 6.7 138.6C4.9 127.1 3.3 114.3 2.3 102.9C1.4 91.4 0.8 79.8 1.1 69.7C1.4 59.7 2.3 50.1 4.0 42.6C5.6 35.2 8.2 29.0 11.1 25.0C13.9 21.1 17.6 19.5 21.1 18.8C24.7 18.2 28.7 19.7 32.5 21.0C36.3 22.3 40.3 24.7 44.0 26.8C47.7 28.9 51.3 31.2 54.9 33.7C58.4 36.1 61.9 38.7 65.3 41.4C68.8 44.2 72.2 47.0 75.6 50.0C79.0 52.9 82.4 56.0 85.8 59.1C89.2 62.2 92.6 65.4 95.9 68.6C99.3 71.8 102.7 75.1 106.1 78.4C109.5 81.6 112.9 85.0 116.3 88.3C119.6 91.6 123.0 94.9 126.3 98.2C129.6 101.5 132.9 104.8 136.2 108.0C139.4 111.3 142.6 114.5 145.8 117.6C148.9 120.7 152.0 123.8 155.0 126.7C157.9 129.7 160.9 132.6 163.6 135.3C166.4 138.1 169.0 140.8 171.5 143.2C173.9 145.7 176.2 147.9 178.3 150.0C180.5 152.2 182.5 154.2 184.4 156.0C186.2 157.9 187.9 159.5 189.4 161.0C190.9 162.5 192.2 163.8 193.4 165.1C194.7 166.3 195.7 167.3 196.7 168.3C197.7 169.3 198.5 170.1 199.3 170.9C200.1 171.6 200.7 172.3 201.4 172.9C202.0 173.6 202.6 174.1 203.1 174.7C203.6 175.2 204.1 175.7 204.5 176.1C204.9 176.5 205.3 176.9 205.7 177.2C206.0 177.5 206.3 177.8 206.5 178.1C206.8 178.3 207.0 178.5 207.2 178.7C207.3 178.9 207.3 178.9 207.6 179.2C207.9 179.5 208.8 180.3 209.0 180.5Z" fill="none" stroke="#fff" stroke-opacity=".4" stroke-width="2" filter="url(#b1)"/>
    <g stroke="#000" stroke-opacity=".15" stroke-width="1">
      <path d="M28.42 0V256M56.84 0V256M85.26 0V256M113.68 0V256M142.10 0V256M170.52 0V256M198.94 0V256M227.36 0V256"/>
      <path d="M0 28.42H256M0 56.84H256M0 85.26H256M0 113.68H256M0 142.10H256M0 170.52H256M0 198.94H256M0 227.36H256"/>
    </g>
    <g fill="#000" font-size="8.3">
      <text x="3" y="8.5">y</text>
      <text x="3" y="31">0.8</text>
      <text x="3" y="88">0.6</text>
      <text x="3" y="144.8">0.4</text>
      <text x="3" y="201.7">0.2</text>
      <text x="3" y="252.6">0</text>
      <text x="56.9" y="252.6" text-anchor="middle">0.2</text>
      <text x="113.8" y="252.6" text-anchor="middle">0.4</text>
      <text x="170.7" y="252.6" text-anchor="middle">0.6</text>
      <text x="227.6" y="252.6" text-anchor="middle">0.8</text>
      <text x="249.3" y="252.3">x</text>
    </g>
    <!-- gamuts -->
    <polygon points="70.5,96.3 125,114 176.3,160.6 148.5,182.5 61,210.3 43.7,181" fill="none" stroke="#fff" stroke-opacity=".68" stroke-width="1.35" stroke-linejoin="miter"/>
    <polygon points="91.4,85.3 182.6,161.6 44.3,237.3" fill="none" stroke="#c47a2a" stroke-opacity=".6" stroke-width="1.8"/>
    <polygon points="89.3,87.4 180.8,161.1 44.3,234.9" fill="none" stroke="#000" stroke-width="1.08" stroke-linejoin="miter"/>
    <g font-size="9.7">
      <text x="173.4" y="54.7" fill="#000" textLength="32.4" lengthAdjust="spacingAndGlyphs">Monitor</text>
      <text x="173.4" y="68.3" fill="#f0a458" textLength="23.2" lengthAdjust="spacingAndGlyphs">sRGB</text>
      <text x="173.4" y="81.6" fill="#fff" textLength="44.2" lengthAdjust="spacingAndGlyphs">ISOcoated</text>
    </g>
    <rect x="0.5" y="0.5" width="255" height="255" fill="none" stroke="#000" stroke-width="1"/>
  </svg>

  <!-- Delta E bar chart -->
  <svg id="bars" style="left:348px;top:111px" width="256" height="256" viewBox="0 0 256 256">
    <defs>
      <linearGradient id="bg" x1="0" y1="0" x2="0" y2="1">
        <stop offset="0" stop-color="#e24e1a"/>
        <stop offset=".06" stop-color="#e5581a"/>
        <stop offset=".17" stop-color="#ee8a1c"/>
        <stop offset=".26" stop-color="#f2b81e"/>
        <stop offset=".34" stop-color="#f0dc20"/>
        <stop offset=".41" stop-color="#e6e61e"/>
        <stop offset=".49" stop-color="#c8dc1e"/>
        <stop offset=".59" stop-color="#a0c81a"/>
        <stop offset=".71" stop-color="#78b016"/>
        <stop offset=".85" stop-color="#4e9812"/>
        <stop offset="1" stop-color="#2c8010"/>
      </linearGradient>
    </defs>
    <rect width="256" height="256" fill="url(#bg)"/>
    <g stroke="#000" stroke-opacity=".12" stroke-width="1" shape-rendering="crispEdges">
      <path d="M0 59.5H256M0 110.5H256M0 161.5H256M0 212.5H256"/>
    </g>
    <g font-size="8.2" fill="#000" fill-opacity=".85" stroke="#000" stroke-opacity=".35" stroke-width=".25">
      <text x="1" y="8.1" textLength="34.2" lengthAdjust="spacingAndGlyphs">10 d E 94</text>
      <text x="1.6" y="62.1" textLength="29.6" lengthAdjust="spacingAndGlyphs">8 d E 94</text>
      <text x="1.6" y="113.2" textLength="29.6" lengthAdjust="spacingAndGlyphs">6 d E 94</text>
      <text x="1.6" y="164.3" textLength="29.6" lengthAdjust="spacingAndGlyphs">4 d E 94</text>
      <text x="1.6" y="215.4" textLength="29.6" lengthAdjust="spacingAndGlyphs">2 d E 94</text>
    </g>
    <g stroke="#000" stroke-width="1.15">
      <rect x="45.5" y="67.5" width="9" height="190" fill="#343434"/>
      <rect x="57.5" y="54.5" width="9" height="203" fill="#464646"/>
      <rect x="69.5" y="105.5" width="9" height="152" fill="#868686"/>
      <rect x="81.5" y="175.5" width="9" height="82" fill="#c6c6c6"/>
      <rect x="105.5" y="-2" width="9" height="260" fill="#ff0000"/>
      <rect x="117.5" y="-2" width="9" height="260" fill="#00ff00"/>
      <rect x="129.5" y="-2" width="9" height="260" fill="#0000ff"/>
      <rect x="141.5" y="180.5" width="9" height="77" fill="#00ffff"/>
      <rect x="153.5" y="146.5" width="9" height="111" fill="#ff00ff"/>
      <rect x="165.5" y="8.5" width="9" height="250" fill="#ffff00"/>
      <rect x="177.5" y="-2" width="9" height="260" fill="#b05252"/>
      <rect x="189.5" y="16.5" width="9" height="242" fill="#52a856"/>
      <rect x="201.5" y="77.5" width="9" height="180" fill="#5252a8"/>
      <rect x="213.5" y="141.5" width="9" height="116" fill="#52a8a8"/>
      <rect x="225.5" y="80.5" width="9" height="177" fill="#a852a8"/>
      <rect x="237.5" y="80.5" width="9" height="177" fill="#a8a852"/>
    </g>
    <rect x="0.5" y="0.5" width="255" height="255" fill="none" stroke="#000" stroke-width="1"/>
  </svg>

  <!-- result tables -->
  <div class="t" style="left:136px;top:377.6px">Target</div>
  <div class="t" style="left:200px;top:377.6px">Current</div>
  <div class="t" style="left:264px;top:377.6px">Deviation</div>
  <div class="t" style="left:72px;top:392.6px">Gamma</div>
  <div class="t" style="left:136px;top:392.6px">2.2</div>
  <div class="t o" style="left:200px;top:392.6px">1.9</div>
  <div class="t o" style="left:264px;top:392.6px">14%</div>
  <div class="t" style="left:72px;top:407.6px">Kelvin</div>
  <div class="t" style="left:136px;top:407.6px">6500</div>
  <div class="t o" style="left:200px;top:407.6px">5396</div>
  <div class="t o" style="left:264px;top:407.6px">17%</div>
  <div class="t" style="left:72px;top:422.6px">cd/m2</div>
  <div class="t" style="left:136px;top:422.6px">120</div>
  <div class="t o" style="left:200px;top:422.6px">76</div>
  <div class="t o" style="left:264px;top:422.6px">37%</div>

  <div class="t" style="left:348px;top:377.6px">Delta E Average</div>
  <div class="t o" style="left:459px;top:377.6px">9.2</div>
  <div class="t" style="left:348px;top:392.6px">Delta E Maximum</div>
  <div class="t o" style="left:459px;top:392.6px">22.0</div>

  <!-- buttons -->
  <div class="btn" style="left:25px">Main Menu</div>
  <div class="btn" style="left:110px">Calibration</div>
  <div class="btn" style="left:491px">Save</div>
  <div class="btn" style="left:576px">Quit</div>
</div>
</body>
</html>
